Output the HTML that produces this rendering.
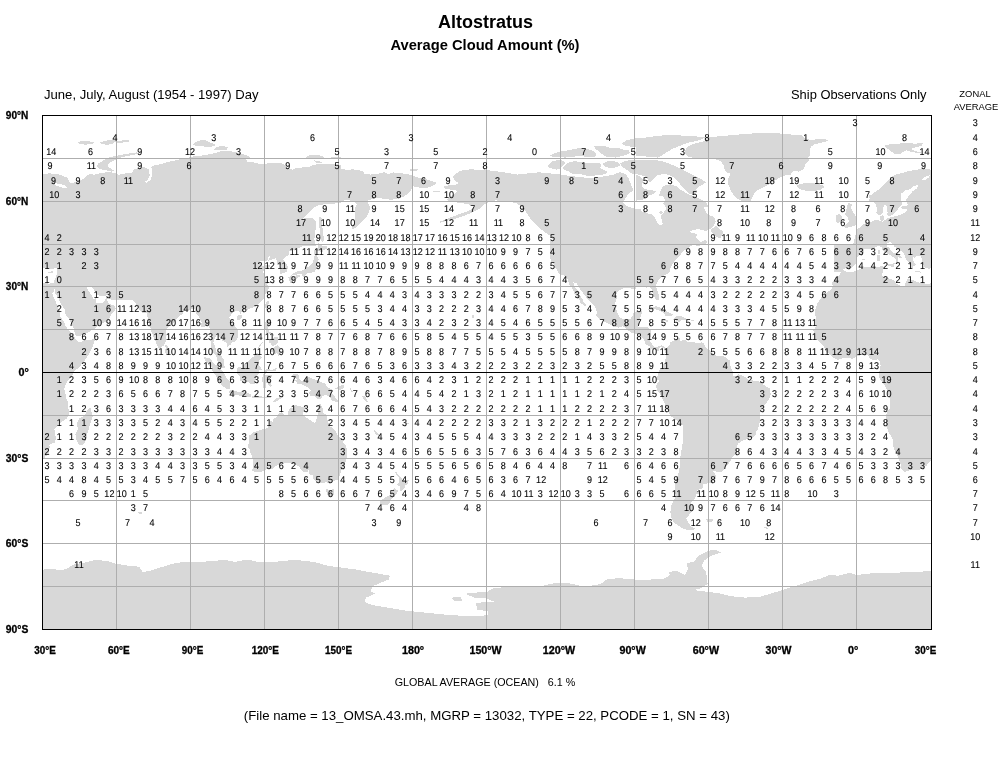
<!DOCTYPE html>
<html lang="en"><head><meta charset="utf-8"><title>Altostratus - Average Cloud Amount (%)</title>
<style>
html,body{margin:0;padding:0;background:#fff;}
body{width:998px;height:760px;overflow:hidden;position:relative;font-family:"Liberation Sans",sans-serif;color:#000;}
svg{position:absolute;left:0;top:0;display:block;}
svg text{font-family:"Liberation Sans",sans-serif;fill:#000;}
.n text,.z text{text-rendering:geometricPrecision;}
.n text{font-size:9.8px;text-anchor:middle;stroke:#000;stroke-width:0.1px;}
.z text{font-size:9.8px;text-anchor:middle;stroke:#000;stroke-width:0.1px;}
.ax text{font-size:10px;font-weight:bold;stroke:#000;stroke-width:0.3px;}
.g line{stroke:#aeaeae;stroke-width:1;shape-rendering:crispEdges;}
.land{fill:#d8d8d8;stroke:none;}
</style></head><body>
<svg width="998" height="760" viewBox="0 0 998 760">
<rect x="0" y="0" width="998" height="760" fill="#fff"/>
<text x="485.5" y="28" text-anchor="middle" font-size="18" font-weight="bold">Altostratus</text>
<text x="485" y="49.5" text-anchor="middle" font-size="14.7" font-weight="bold">Average Cloud Amount (%)</text>
<text x="44" y="99" font-size="13.33" textLength="214.5" lengthAdjust="spacingAndGlyphs">June, July, August (1954 - 1997) Day</text>
<text x="791" y="99" font-size="13.33" textLength="135.5" lengthAdjust="spacingAndGlyphs">Ship Observations Only</text>
<text x="975" y="97" text-anchor="middle" font-size="9.4">ZONAL</text>
<text x="976" y="110" text-anchor="middle" font-size="9.4">AVERAGE</text>
<clipPath id="mapclip"><rect x="42.5" y="115.5" width="889" height="514"/></clipPath>
<g class="land" clip-path="url(#mapclip)" shape-rendering="crispEdges">
<polygon points="77.1,141.8 85.4,140.9 94.5,142.1 92.2,143.9 85.4,144.7 79.4,143.6"/>
<polygon points="99.8,142.4 108.1,140.3 114.2,139.4 115.7,141.4 112.7,143.9 106.6,144.8 102.1,143.9"/>
<polygon points="116.4,140.9 128.5,140.0 129.3,141.5 121.7,142.7 116.4,142.7"/>
<polygon points="96.3,166.3 98.3,163.6 103.6,160.3 108.9,157.5 115.7,156.0 124.8,154.2 136.9,152.4 138.4,153.6 130.8,155.4 121.7,157.2 115.7,159.5 109.6,162.5 107.4,166.3 111.1,168.6 114.2,170.9 111.1,171.6 105.1,170.1 99.0,169.0"/>
<polygon points="40.0,173.9 50.6,173.4 59.7,174.6 67.2,177.7 69.5,181.5 70.3,183.3 74.8,182.2 80.9,180.7 83.9,178.4 86.9,175.4 89.9,174.2 94.5,174.6 97.5,173.9 103.6,172.7 109.6,172.1 115.7,173.1 118.7,175.4 121.7,173.9 127.8,173.1 132.3,172.4 133.8,169.7 138.4,167.8 144.4,167.1 147.5,168.6 149.0,169.7 152.0,169.7 151.2,167.1 155.0,165.1 161.1,164.1 165.6,162.5 171.7,161.0 176.2,160.3 182.3,158.8 190.6,157.5 190.6,245.8 40.0,245.8"/>
<polygon points="193.0,144.4 196.8,141.4 202.1,140.0 206.6,140.6 211.2,142.9 215.0,144.4 214.2,146.3 208.2,147.0 202.1,146.3 196.1,145.9"/>
<polygon points="213.9,149.4 216.5,147.0 222.5,145.9 227.8,147.0 227.1,149.4 221.8,150.4 216.5,150.4"/>
<polygon points="189.2,157.2 196.1,156.0 203.6,155.4 209.7,154.2 216.5,152.7 220.3,151.2 227.8,150.9 233.9,151.9 241.5,153.5 247.5,155.7 249.8,157.5 246.0,159.5 247.5,161.8 253.6,162.5 261.1,164.1 264.2,164.5 270.2,162.5 277.8,162.5 283.8,164.1 288.4,168.6 292.9,169.7 295.9,167.8 302.0,167.5 309.6,167.1 312.6,165.1 318.7,164.1 326.2,163.6 332.3,164.1 340.6,165.1 340.6,203.0 332.3,203.7 323.2,204.5 317.9,205.4 313.4,207.9 308.8,212.5 305.0,216.6 303.5,218.5 308.1,217.5 312.6,218.5 315.9,220.8 316.4,226.9 314.9,232.9 314.4,239.0 315.6,245.8 189.2,245.8"/>
<polygon points="319.0,217.5 321.4,217.0 322.0,223.8 322.9,231.4 323.9,239.0 323.2,242.0 321.4,241.2 320.2,234.4 319.4,226.9"/>
<polygon points="305.8,157.2 309.6,155.4 315.6,155.0 321.7,155.7 324.7,157.2 320.2,158.8 314.1,159.1 308.1,158.8"/>
<polygon points="314.1,160.3 318.7,161.0 322.4,162.1 320.2,163.6 315.6,162.5"/>
<polygon points="329.2,156.9 335.3,156.5 340.6,157.2 340.6,158.8 333.8,158.5"/>
<polygon points="339.2,168.6 346.1,169.7 353.6,169.4 362.7,170.9 364.2,173.6 370.3,174.6 377.8,173.9 383.9,172.1 388.4,173.9 393.0,172.4 400.5,173.1 408.1,174.2 412.7,175.4 415.7,177.2 424.8,178.7 430.8,180.7 436.9,183.0 433.8,185.2 427.8,187.8 421.7,188.3 415.7,186.8 412.3,186.3 411.1,190.5 408.1,193.6 403.6,196.6 397.5,198.4 391.5,199.9 385.4,198.9 377.8,198.1 371.8,198.9 367.2,201.1 369.5,205.7 369.5,210.2 367.2,216.3 362.7,220.8 358.2,225.4 353.6,229.1 351.4,228.1 354.4,222.3 355.1,216.3 354.4,211.7 355.1,207.2 357.4,204.2 353.6,201.4 347.6,199.9 339.2,201.4"/>
<polygon points="408.9,169.7 414.2,168.6 418.7,169.7 415.7,171.2 410.4,171.2"/>
<polygon points="432.3,190.5 439.9,191.3 439.1,192.4 433.1,192.1"/>
<polygon points="490.6,170.6 480.8,169.7 470.2,169.4 461.1,170.6 456.5,173.1 452.8,176.9 455.0,180.7 458.8,183.0 455.0,184.8 449.0,185.2 442.9,186.8 445.9,189.0 452.0,189.8 458.1,190.8 455.0,193.6 450.5,196.6 446.7,199.3 449.0,201.1 455.0,202.3 461.1,203.0 468.7,204.5 474.7,206.4 468.7,211.0 461.1,213.5 453.5,216.3 445.9,219.3 439.9,221.6 439.6,222.8 445.9,221.1 455.0,218.8 464.1,215.8 471.7,212.9 479.2,209.0 483.8,204.5 490.6,201.1"/>
<polygon points="489.2,170.6 499.1,171.6 508.2,173.1 517.2,174.6 524.8,173.9 530.9,172.7 539.9,172.4 547.5,173.1 555.1,173.9 561.1,174.6 570.1,176.0 580.8,177.2 590.0,178.1 599.0,177.2 605.0,176.2 612.1,175.1 620.2,172.1 625.2,174.0 628.0,177.1 630.2,182.1 633.2,190.1 629.2,193.6 626.1,197.1 623.0,202.2 626.2,205.7 630.8,207.5 635.3,208.7 640.6,209.5 640.6,245.8 556.6,245.8 553.6,240.5 550.5,235.9 546.0,232.9 539.9,228.4 535.4,223.8 530.9,219.3 527.8,214.8 524.8,210.2 520.3,205.7 515.7,203.0 509.7,201.9 502.1,201.1 496.1,200.4 489.2,201.1"/>
<polygon points="550.0,155.1 556.0,152.8 561.0,151.5 570.1,150.0 577.1,148.5 582.1,148.0 588.1,149.0 594.1,151.5 596.1,154.0 595.1,156.6 588.1,157.1 582.1,156.3 576.1,156.3 570.1,157.1 565.1,157.6 560.0,157.1 555.0,156.9 551.0,156.3"/>
<polygon points="594.1,146.5 600.1,146.0 606.1,146.5 610.1,148.0 614.1,147.5 618.2,148.0 623.2,149.5 628.2,150.0 630.2,153.0 626.2,155.1 620.2,156.3 616.2,157.6 610.1,157.1 605.1,156.3 602.1,154.0 599.1,151.5 596.1,149.5"/>
<polygon points="622.2,143.0 626.2,140.5 630.2,139.5 634.2,138.5 640.2,138.0 640.2,148.0 635.2,147.0 630.2,146.5 626.2,146.0 623.2,145.0"/>
<polygon points="547.5,166.1 550.0,163.1 553.0,161.1 558.0,160.1 563.0,160.6 565.1,163.1 562.0,166.1 560.0,169.1 556.0,169.6 552.0,168.6 549.0,167.6"/>
<polygon points="563.0,167.1 566.1,164.1 570.1,162.1 575.1,161.1 580.1,162.1 588.1,163.1 594.1,162.6 599.1,163.1 601.1,165.1 600.1,168.1 604.1,170.1 608.1,172.1 605.1,174.1 600.1,175.1 594.1,175.6 588.1,176.1 584.1,175.1 580.1,174.1 575.1,174.1 570.1,173.1 568.1,171.1 564.0,170.1"/>
<polygon points="602.1,164.1 606.1,161.6 612.1,161.1 618.2,162.1 620.2,165.1 617.2,167.1 612.1,168.1 608.1,167.6 604.1,166.1"/>
<polygon points="620.2,163.1 625.2,161.1 630.2,160.1 634.2,160.1 640.2,161.1 640.2,172.1 635.2,174.1 630.2,173.1 627.2,170.1 624.2,168.1 621.2,166.1"/>
<polygon points="636.0,139.0 646.0,137.5 656.0,136.0 666.1,135.2 681.1,135.5 691.1,136.0 700.1,136.8 705.1,137.5 700.1,140.0 695.1,141.2 690.1,142.2 684.1,144.2 679.1,146.2 674.1,148.2 670.1,150.2 666.1,152.7 662.1,155.3 658.0,157.6 648.0,156.6 642.0,156.3 636.0,156.3"/>
<polygon points="703.6,141.4 708.1,137.3 730.8,135.3 745.9,133.8 761.1,133.0 776.2,133.3 791.4,134.2 791.4,174.6 785.3,175.4 780.8,176.9 776.2,179.9 771.7,183.0 765.6,186.0 759.6,189.0 755.0,192.1 752.8,196.6 750.5,201.1 742.9,201.1 736.9,198.9 733.8,195.1 730.8,190.5 728.5,184.5 727.5,179.9 729.3,176.2 730.8,173.9 727.0,172.4 724.8,170.6 724.0,166.3 721.0,161.0 715.7,159.5 706.6,158.8 700.5,158.2 693.0,157.7 688.4,156.5 685.4,154.2 685.4,150.4 686.9,147.4 690.7,144.8 696.0,143.3"/>
<polygon points="636.0,160.1 646.0,159.6 656.0,160.1 662.1,161.1 669.1,163.6 676.1,166.6 682.1,169.6 688.1,172.6 694.1,175.6 700.1,178.6 706.1,182.1 703.1,184.6 699.1,186.6 696.1,189.1 697.1,192.1 694.1,195.1 690.1,194.1 686.1,191.1 683.1,188.1 680.1,184.1 677.1,180.1 673.1,177.1 668.1,174.6 663.1,174.1 658.0,175.1 655.0,177.1 652.0,180.1 650.0,183.1 646.0,177.1 641.0,175.1 636.0,174.1"/>
<polygon points="636.0,175.1 640.0,176.1 643.0,180.1 642.0,186.1 645.0,189.1 651.0,190.1 656.0,191.1 654.0,194.1 650.0,195.1 646.0,198.1 642.0,200.1 636.0,200.6"/>
<polygon points="662.1,187.1 666.1,185.1 671.1,184.6 676.1,186.1 679.1,189.1 683.1,191.1 688.1,194.1 694.1,196.1 700.1,199.1 706.1,202.1 708.1,206.7 666.1,206.7 665.1,200.1 663.1,196.1 659.0,196.1 660.0,192.1"/>
<polygon points="632.0,209.0 640.0,211.0 646.0,213.0 652.0,214.5 655.0,218.0 657.0,222.1 660.0,225.1 662.6,224.1 662.1,220.1 660.5,216.0 662.1,214.0 664.1,212.0 666.1,209.0 665.1,206.0 663.1,204.0 665.1,201.0 666.1,199.0 664.1,197.0 663.1,194.5 680.1,194.5 684.1,198.0 688.1,200.0 696.1,201.0 700.1,204.0 704.1,208.0 706.1,212.0 708.1,215.0 712.2,216.0 715.2,218.5 715.7,222.1 714.2,225.1 711.2,228.1 708.1,230.1 706.1,231.1 702.1,230.1 698.1,229.1 693.1,230.1 689.1,232.1 693.1,233.1 697.1,234.1 696.1,237.1 698.1,240.1 701.1,242.1 705.1,240.1 707.1,242.1 706.1,244.1 702.1,245.1 698.1,246.1 695.1,245.1 692.1,245.1 688.1,248.1 683.1,251.1 680.1,255.1 676.1,259.1 673.1,263.1 671.1,267.1 669.1,271.7 632.0,271.7"/>
<polygon points="711.2,229.1 714.2,227.1 716.2,225.1 718.2,228.1 721.2,230.1 723.2,232.1 722.2,235.1 720.2,238.1 716.2,237.1 713.2,234.1 711.2,232.1"/>
<polygon points="659.0,212.0 661.1,211.0 663.1,212.0 662.1,213.5 660.0,213.5"/>
<polygon points="789.2,134.5 800.6,134.5 804.4,138.3 809.7,139.8 817.2,139.4 826.3,139.4 828.6,140.9 820.3,142.9 814.2,144.4 811.2,146.6 809.7,149.7 810.4,154.2 808.2,158.0 809.7,160.3 805.1,164.8 803.6,169.4 799.1,171.6 794.5,170.9 789.2,173.9"/>
<polygon points="796.1,186.0 800.6,183.7 808.2,183.0 815.7,183.7 823.3,185.2 824.1,187.5 820.3,189.8 812.7,191.3 805.1,190.5 799.1,189.0"/>
<polygon points="883.8,145.9 889.9,144.4 899.0,143.6 905.0,142.9 914.1,143.6 923.2,143.3 921.7,145.9 915.6,147.4 911.1,148.9 915.6,151.2 921.7,152.4 918.7,153.0 911.1,151.9 906.5,150.4 902.0,152.7 899.0,154.5 894.4,153.5 889.9,150.4 886.9,148.2"/>
<polygon points="868.7,201.9 870.2,196.6 874.8,192.1 879.3,189.0 882.3,186.0 886.9,181.5 891.4,176.9 895.9,174.6 902.0,173.1 909.6,170.9 915.6,169.7 923.2,169.0 932.3,169.7 932.3,201.9"/>
<polygon points="856.5,230.1 859.0,228.1 862.1,225.1 866.1,223.1 870.1,222.1 874.1,220.6 878.1,219.5 880.1,221.3 883.1,221.6 886.1,219.0 889.1,217.8 893.1,216.8 897.1,215.8 901.1,214.5 905.1,212.5 907.6,210.0 906.1,209.0 902.1,209.0 900.6,207.5 902.1,206.2 906.1,206.0 908.1,205.0 907.1,203.0 906.1,201.0 908.1,199.0 910.1,197.0 910.6,194.5 930.7,194.5 930.7,271.7 834.0,271.7 834.0,244.1 841.0,244.1 846.0,244.6 851.0,245.1 853.0,244.1 854.0,241.1 855.0,237.1 856.0,233.1"/>
<polygon points="848.0,203.0 852.0,204.0 851.0,208.0 853.0,212.0 855.5,216.0 856.0,220.1 856.5,224.1 854.0,226.1 850.0,227.1 846.0,228.1 844.0,226.1 847.0,224.1 849.0,221.1 848.0,218.0 845.0,215.0 846.0,211.0 847.0,207.0"/>
<polygon points="835.5,215.0 840.0,214.0 842.0,217.0 841.0,221.1 838.0,223.1 835.5,222.1"/>
<polygon points="869.1,194.5 869.6,199.0 873.1,201.0 876.1,205.0 877.1,210.0 876.1,213.0 878.1,215.0 881.1,214.5 883.1,212.0 883.3,208.0 884.3,205.0 886.1,204.5 886.9,208.0 887.6,212.0 887.1,215.0 889.1,216.5 892.1,215.0 895.1,212.0 898.1,209.0 900.1,206.0 902.1,204.0 901.1,201.0 900.1,198.0 900.1,194.5"/>
<polygon points="880.1,216.0 883.1,215.0 884.1,218.0 883.1,221.1 881.1,221.6 880.1,219.0"/>
<polygon points="-46.1,270.3 -48.3,275.4 -52.5,277.4 -55.7,282.6 -55.4,286.8 -56.7,289.7 -61.1,292.5 -64.1,294.0 -67.3,298.3 -71.0,304.0 -73.4,312.5 -71.7,318.2 -72.2,326.8 -74.7,330.5 -72.7,335.4 -72.9,338.2 -68.5,341.7 -64.8,345.4 -62.3,351.1 -59.9,353.1 -54.9,357.4 -50.0,359.9 -43.8,357.9 -38.9,358.2 -35.2,358.8 -30.3,356.2 -25.3,354.5 -20.4,354.8 -17.9,358.8 -14.2,359.9 -10.5,359.4 -8.1,361.6 -7.3,365.4 -8.1,369.6 -9.3,374.5 -8.1,379.6 -4.4,383.9 -1.9,388.2 -1.2,390.2 1.1,396.8 2.5,402.5 1.8,408.2 -1.2,412.5 -2.4,419.6 -2.4,423.9 0.6,432.5 4.3,437.6 5.0,443.9 6.0,449.6 9.2,454.7 10.9,459.6 12.9,464.7 13.6,469.6 16.6,471.9 20.3,470.7 25.2,469.6 31.4,469.6 35.1,468.2 38.8,465.3 42.5,461.0 45.0,456.7 48.7,453.9 49.7,446.7 49.2,444.7 54.8,442.5 56.1,438.2 54.8,432.5 54.3,429.0 58.5,425.3 62.2,421.6 67.2,418.2 69.1,413.9 68.4,408.2 68.2,402.5 65.9,398.2 65.4,392.5 64.2,389.6 65.2,385.9 67.2,381.1 70.9,377.6 74.6,371.1 79.5,366.8 84.4,361.1 88.1,355.4 91.3,349.7 94.3,342.5 94.8,338.8 89.4,340.2 84.4,340.5 79.5,342.5 75.8,339.7 74.6,336.8 70.9,332.5 67.2,328.2 65.4,325.4 63.5,321.1 60.5,316.8 60.3,311.1 57.3,306.8 56.1,302.5 53.6,296.8 51.9,293.1 48.9,287.1 48.2,283.1 42.5,281.7 30.2,281.1 17.8,278.3 5.5,278.3 -4.4,275.4 -4.4,266.0 -19.2,266.0 -31.5,269.1 -38.9,270.8"/>
<polygon points="841.9,270.3 839.7,275.4 835.5,277.4 832.3,282.6 832.6,286.8 831.3,289.7 826.9,292.5 823.9,294.0 820.7,298.3 817.0,304.0 814.6,312.5 816.3,318.2 815.8,326.8 813.3,330.5 815.3,335.4 815.1,338.2 819.5,341.7 823.2,345.4 825.7,351.1 828.1,353.1 833.1,357.4 838.0,359.9 844.2,357.9 849.1,358.2 852.8,358.8 857.7,356.2 862.7,354.5 867.6,354.8 870.1,358.8 873.8,359.9 877.5,359.4 879.9,361.6 880.7,365.4 879.9,369.6 878.7,374.5 879.9,379.6 883.6,383.9 886.1,388.2 886.8,390.2 889.1,396.8 890.5,402.5 889.8,408.2 886.8,412.5 885.6,419.6 885.6,423.9 888.6,432.5 892.3,437.6 893.0,443.9 894.0,449.6 897.2,454.7 898.9,459.6 900.9,464.7 901.6,469.6 904.6,471.9 908.3,470.7 913.2,469.6 919.4,469.6 923.1,468.2 926.8,465.3 930.5,461.0 933.0,456.7 936.7,453.9 937.7,446.7 937.2,444.7 942.8,442.5 944.1,438.2 942.8,432.5 942.3,429.0 946.5,425.3 950.2,421.6 955.2,418.2 957.1,413.9 956.4,408.2 956.2,402.5 953.9,398.2 953.4,392.5 952.2,389.6 953.2,385.9 955.2,381.1 958.9,377.6 962.6,371.1 967.5,366.8 972.4,361.1 976.1,355.4 979.3,349.7 982.3,342.5 982.8,338.8 977.4,340.2 972.4,340.5 967.5,342.5 963.8,339.7 962.6,336.8 958.9,332.5 955.2,328.2 953.4,325.4 951.5,321.1 948.5,316.8 948.3,311.1 945.3,306.8 944.1,302.5 941.6,296.8 939.9,293.1 936.9,287.1 936.2,283.1 930.5,281.7 918.2,281.1 905.8,278.3 893.5,278.3 883.6,275.4 883.6,266.0 868.8,266.0 856.5,269.1 849.1,270.8"/>
<polygon points="40.0,239.7 40.0,282.8 48.2,283.1 48.9,287.1 51.1,292.0 53.1,293.1 54.6,288.3 54.8,292.5 58.5,298.3 60.5,303.4 64.7,309.7 65.2,314.0 68.4,318.2 70.9,322.5 73.8,328.2 75.1,334.5 76.0,336.2 79.5,335.9 84.4,334.0 89.4,331.7 94.3,328.8 97.5,326.0 101.7,324.0 105.4,321.7 109.1,318.8 111.1,314.5 113.5,312.5 116.0,308.2 113.3,305.1 109.1,304.0 107.4,301.1 107.6,297.4 105.4,299.4 102.9,303.1 98.0,303.4 95.8,302.5 95.5,298.3 93.8,299.7 92.3,296.8 91.1,294.5 88.6,291.1 86.9,288.0 88.6,286.0 91.8,286.8 93.8,289.7 95.5,292.8 99.2,296.0 102.9,296.5 107.4,295.1 109.8,299.4 114.0,300.0 120.2,300.5 126.4,300.3 132.5,300.0 134.5,302.0 136.7,304.8 138.7,308.8 141.9,312.8 146.8,312.5 147.8,318.2 149.3,324.0 151.0,330.2 153.0,335.9 155.5,340.5 157.2,345.9 159.7,349.4 161.4,347.1 163.4,345.9 165.3,343.1 166.3,335.4 166.3,328.8 169.5,326.0 172.0,324.5 175.7,320.5 178.2,316.8 182.6,314.0 184.3,310.8 188.0,310.2 191.7,308.5 194.9,308.8 196.2,313.4 199.1,316.8 201.6,322.5 201.1,326.8 204.1,327.4 207.8,324.5 209.5,328.2 210.7,334.0 211.7,339.7 211.0,344.5 211.0,349.7 213.9,353.1 216.4,356.8 218.4,363.9 221.3,366.8 223.8,368.5 225.5,368.2 223.8,363.9 223.6,359.6 221.3,355.4 218.9,352.8 216.4,351.7 215.2,346.8 213.4,342.5 215.2,337.4 216.4,334.2 218.9,336.2 221.3,338.2 222.6,341.1 226.3,342.5 227.5,346.8 230.0,345.1 232.4,342.5 236.1,341.1 238.1,336.8 238.1,332.5 236.9,328.2 233.7,324.5 231.2,321.1 229.2,317.7 231.2,314.8 233.7,312.0 236.9,310.5 239.3,311.1 240.6,314.0 242.3,311.1 247.2,309.7 250.9,308.2 255.9,306.8 259.6,302.5 263.3,299.7 264.5,295.4 268.2,291.1 268.9,286.8 267.0,284.8 268.9,282.6 266.5,278.8 265.0,274.6 262.5,272.6 265.2,269.1 270.2,267.1 270.2,265.4 266.5,264.6 262.0,266.0 259.1,262.6 260.8,260.6 267.0,261.1 268.7,256.0 270.2,256.9 267.7,261.1 273.1,259.1 275.6,258.3 277.6,261.7 276.8,264.6 280.8,265.4 280.0,269.7 280.3,273.7 283.0,273.4 286.7,272.0 287.9,268.3 287.4,265.4 285.5,262.6 283.0,259.1 285.5,256.9 288.4,255.4 289.2,251.1 291.6,250.6 295.3,249.1 301.5,246.9 305.2,242.6 307.7,239.7"/>
<polygon points="928.0,239.7 928.0,282.8 936.2,283.1 936.9,287.1 939.1,292.0 941.1,293.1 942.6,288.3 942.8,292.5 946.5,298.3 948.5,303.4 952.7,309.7 953.2,314.0 956.4,318.2 958.9,322.5 961.8,328.2 963.1,334.5 964.0,336.2 967.5,335.9 972.4,334.0 977.4,331.7 982.3,328.8 985.5,326.0 989.7,324.0 993.4,321.7 997.1,318.8 999.1,314.5 1001.5,312.5 1004.0,308.2 1001.3,305.1 997.1,304.0 995.4,301.1 995.6,297.4 993.4,299.4 990.9,303.1 986.0,303.4 983.8,302.5 983.5,298.3 981.8,299.7 980.3,296.8 979.1,294.5 976.6,291.1 974.9,288.0 976.6,286.0 979.8,286.8 981.8,289.7 983.5,292.8 987.2,296.0 990.9,296.5 995.4,295.1 997.8,299.4 1002.0,300.0 1008.2,300.5 1014.4,300.3 1020.5,300.0 1022.5,302.0 1024.7,304.8 1026.7,308.8 1029.9,312.8 1034.8,312.5 1035.8,318.2 1037.3,324.0 1039.0,330.2 1041.0,335.9 1043.5,340.5 1045.2,345.9 1047.7,349.4 1049.4,347.1 1051.4,345.9 1053.3,343.1 1054.3,335.4 1054.3,328.8 1057.5,326.0 1060.0,324.5 1063.7,320.5 1066.2,316.8 1070.6,314.0 1072.3,310.8 1076.0,310.2 1079.7,308.5 1082.9,308.8 1084.2,313.4 1087.1,316.8 1089.6,322.5 1089.1,326.8 1092.1,327.4 1095.8,324.5 1097.5,328.2 1098.7,334.0 1099.7,339.7 1099.0,344.5 1099.0,349.7 1101.9,353.1 1104.4,356.8 1106.4,363.9 1109.3,366.8 1111.8,368.5 1113.5,368.2 1111.8,363.9 1111.6,359.6 1109.3,355.4 1106.9,352.8 1104.4,351.7 1103.2,346.8 1101.4,342.5 1103.2,337.4 1104.4,334.2 1106.9,336.2 1109.3,338.2 1110.6,341.1 1114.3,342.5 1115.5,346.8 1118.0,345.1 1120.4,342.5 1124.1,341.1 1126.1,336.8 1126.1,332.5 1124.9,328.2 1121.7,324.5 1119.2,321.1 1117.2,317.7 1119.2,314.8 1121.7,312.0 1124.9,310.5 1127.3,311.1 1128.6,314.0 1130.3,311.1 1135.2,309.7 1138.9,308.2 1143.9,306.8 1147.6,302.5 1151.3,299.7 1152.5,295.4 1156.2,291.1 1156.9,286.8 1155.0,284.8 1156.9,282.6 1154.5,278.8 1153.0,274.6 1150.5,272.6 1153.2,269.1 1158.2,267.1 1158.2,265.4 1154.5,264.6 1150.0,266.0 1147.1,262.6 1148.8,260.6 1155.0,261.1 1156.7,256.0 1158.2,256.9 1155.7,261.1 1161.1,259.1 1163.6,258.3 1165.6,261.7 1164.8,264.6 1168.8,265.4 1168.0,269.7 1168.3,273.7 1171.0,273.4 1174.7,272.0 1175.9,268.3 1175.4,265.4 1173.5,262.6 1171.0,259.1 1173.5,256.9 1176.4,255.4 1177.2,251.1 1179.6,250.6 1183.3,249.1 1189.5,246.9 1193.2,242.6 1195.7,239.7"/>
<polygon points="165.3,345.1 166.6,345.4 169.0,348.2 170.3,351.7 169.5,354.2 167.1,355.4 165.8,354.5 165.3,351.1 165.6,348.2"/>
<polygon points="203.6,356.5 206.5,357.7 209.7,357.9 212.0,361.1 215.2,364.5 217.6,366.2 221.3,369.6 223.8,372.5 225.0,375.4 226.5,378.2 230.0,381.1 229.7,385.4 229.5,389.1 226.8,389.1 223.8,386.8 220.8,383.9 217.6,379.6 215.9,375.4 212.7,371.1 211.5,367.4 209.0,365.4 206.5,361.9 204.1,358.8"/>
<polygon points="228.0,391.9 231.2,389.6 234.9,391.1 239.8,391.9 241.8,390.8 246.0,392.2 250.9,394.5 250.7,397.1 246.0,396.5 239.8,395.6 234.9,394.8 231.2,393.6"/>
<polygon points="252.2,395.6 257.1,396.2 262.0,396.5 267.0,396.5 271.9,396.2 271.4,397.6 264.5,397.9 257.1,398.2 252.2,397.6"/>
<polygon points="273.1,401.9 276.8,398.2 281.8,396.5 280.5,398.8 275.6,401.6"/>
<polygon points="237.4,368.2 238.8,366.8 242.3,368.2 243.5,364.8 247.2,363.4 249.7,359.6 253.4,356.8 256.6,352.5 258.8,354.5 262.0,357.7 259.6,360.2 258.3,363.4 259.6,366.2 262.0,369.6 259.1,370.2 258.3,374.8 255.9,376.8 255.4,381.1 254.6,383.9 251.2,384.2 249.0,382.2 244.8,382.2 240.3,381.1 239.8,376.8 237.4,373.9 237.4,371.1"/>
<polygon points="263.3,388.2 263.3,382.5 261.5,380.5 264.0,372.5 264.5,370.2 267.0,368.8 271.9,369.9 276.8,367.9 275.6,371.4 271.9,371.4 267.0,371.4 265.0,375.1 268.2,375.1 272.6,374.8 271.4,376.8 268.7,377.9 270.2,381.9 271.9,385.4 270.2,386.8 268.7,385.4 267.0,381.1 266.2,383.9 265.5,388.2"/>
<polygon points="291.6,374.8 295.3,373.6 299.0,374.8 299.5,379.4 302.0,381.9 305.2,378.8 308.9,377.1 312.6,378.8 316.3,379.9 321.2,382.2 324.9,383.6 328.1,387.6 331.6,389.3 333.1,391.9 331.1,391.9 333.6,395.3 337.3,399.6 339.7,401.9 336.0,401.9 332.3,400.5 328.6,396.2 324.9,394.2 322.5,396.5 321.2,398.8 317.5,398.5 313.8,395.9 310.6,396.2 308.9,392.5 310.9,390.8 307.7,387.6 304.0,385.4 300.3,383.9 297.1,383.9 296.1,381.1 294.1,380.5 297.8,379.1 294.8,378.2 291.6,376.5"/>
<polygon points="265.7,319.7 269.4,319.7 270.2,324.0 268.4,327.4 268.9,332.0 273.1,333.1 274.4,336.2 271.9,334.5 268.9,333.4 266.2,333.1 266.0,330.2 264.3,326.8 265.5,322.5"/>
<polygon points="269.4,350.2 273.1,347.9 277.6,344.8 280.3,348.2 280.3,353.9 278.1,355.9 277.3,353.1 274.4,353.9 274.4,351.1 270.7,352.5"/>
<polygon points="269.4,338.8 271.9,339.7 275.1,336.8 278.1,337.4 278.6,341.1 276.8,343.9 273.1,345.9 271.4,345.4 270.7,342.5 269.4,342.5"/>
<polygon points="257.8,348.5 260.8,345.4 263.3,341.7 263.8,340.2 261.5,343.1 258.3,346.8"/>
<polygon points="267.0,300.5 269.2,301.1 268.2,305.4 266.5,309.7 265.0,307.4 265.0,304.5"/>
<polygon points="236.6,317.4 238.6,315.4 241.8,315.4 242.1,317.4 239.8,320.0 236.9,319.7"/>
<polygon points="288.4,277.4 291.1,275.7 293.4,276.6 293.9,279.7 292.4,282.8 290.6,283.7 289.7,281.1 288.7,278.8"/>
<polygon points="291.4,275.4 294.1,272.8 297.3,271.1 301.5,270.8 304.0,269.7 305.9,266.0 307.2,267.4 310.1,265.7 312.6,262.6 313.8,258.8 313.8,256.3 316.3,254.0 317.5,256.9 318.8,259.7 317.5,263.1 316.3,265.4 315.8,269.7 314.6,272.0 313.3,271.7 310.9,273.4 307.7,273.4 305.9,274.3 304.5,276.8 302.0,276.3 301.5,273.7 297.8,274.3 294.8,274.8 291.6,275.7"/>
<polygon points="294.6,276.8 296.6,274.8 300.3,274.6 300.5,276.0 299.0,277.1 296.6,278.8"/>
<polygon points="313.8,254.0 314.6,249.1 317.5,248.9 318.0,243.1 320.0,244.0 322.5,246.3 326.7,246.3 327.4,248.9 323.7,250.0 322.0,252.6 318.3,250.9 316.1,251.1 316.3,253.4"/>
<polygon points="90.1,406.8 92.6,416.8 90.6,422.5 88.1,431.0 85.7,441.0 83.2,444.5 79.5,445.3 76.3,439.6 75.3,433.9 77.8,429.6 77.0,422.5 79.5,418.2 84.4,415.9 86.9,411.1"/>
<polygon points="249.0,435.3 250.2,434.8 253.4,431.9 257.1,431.3 262.0,429.6 267.0,428.2 270.2,423.9 269.9,421.0 273.1,421.9 273.6,418.8 276.8,416.8 278.8,413.0 281.8,412.2 284.2,414.8 287.9,415.0 288.4,411.1 290.4,408.2 294.1,407.1 295.3,404.8 301.5,406.8 305.9,407.3 304.0,410.5 302.7,414.8 306.4,417.6 311.4,421.0 315.1,422.8 317.0,418.2 318.0,411.1 318.3,406.8 320.0,403.3 322.5,408.2 323.2,413.3 326.9,415.0 327.4,419.6 329.4,426.2 332.3,427.9 336.0,431.0 337.3,435.3 340.5,437.6 342.2,441.0 345.9,445.3 347.1,451.0 347.1,455.3 345.9,461.0 344.7,465.3 341.7,469.6 340.2,473.9 338.5,478.2 338.0,479.9 333.6,480.7 329.9,483.9 326.2,482.2 322.5,483.3 317.5,482.2 313.8,479.6 312.6,475.3 309.4,474.2 308.9,468.2 307.7,472.4 304.0,472.4 302.2,471.3 299.0,466.7 294.1,463.9 286.7,462.7 279.3,464.7 274.4,466.7 273.1,469.3 267.0,469.3 263.3,470.7 259.6,472.4 254.6,471.9 252.2,470.4 253.4,463.9 252.7,458.2 250.9,453.9 249.7,449.6 248.0,446.7 248.7,442.5 248.5,438.2"/>
<polygon points="325.4,488.7 329.9,489.9 334.1,489.0 334.3,492.4 333.1,495.9 330.6,497.0 328.6,496.7 326.7,493.0"/>
<polygon points="394.5,470.7 396.5,472.4 398.9,475.9 401.4,477.3 402.6,479.9 406.3,480.7 408.8,480.2 407.6,483.9 405.1,485.3 404.6,488.2 401.4,491.0 399.7,490.4 400.2,486.7 397.2,484.7 399.2,482.4 399.4,479.0 398.2,476.7 395.2,473.0"/>
<polygon points="394.5,488.2 398.2,491.0 396.5,493.9 394.7,496.7 391.0,499.0 389.8,503.3 386.6,505.3 382.9,505.3 379.4,503.9 380.4,501.0 384.1,498.1 389.1,495.3 391.5,492.4 393.3,489.6"/>
<polygon points="550.6,239.7 549.9,249.7 550.1,257.4 551.1,261.1 554.3,264.6 555.8,268.3 559.0,273.7 563.0,275.1 564.7,276.0 567.4,279.1 569.1,284.0 571.6,287.4 574.1,291.7 574.8,294.8 579.0,298.8 580.2,302.5 584.4,306.0 586.4,306.8 586.4,304.5 583.9,302.5 582.0,298.3 579.5,294.5 577.8,290.3 574.6,286.8 573.3,282.3 576.5,283.1 578.3,286.8 581.5,291.1 583.9,294.0 586.4,297.4 589.4,300.5 593.1,304.5 595.8,308.2 596.8,311.7 596.3,315.4 598.7,318.2 603.7,321.1 608.6,324.0 613.5,326.2 618.5,327.7 622.7,326.2 625.9,328.2 629.1,331.1 632.0,332.8 635.7,334.0 639.4,334.8 640.7,335.9 643.1,338.8 644.9,341.7 645.6,344.5 649.3,345.9 651.0,348.8 654.2,349.1 656.7,351.7 658.4,351.1 659.2,348.2 661.6,346.8 664.1,348.8 665.3,351.7 665.8,355.4 665.3,361.1 662.9,365.4 661.6,368.2 659.2,370.5 657.9,375.4 656.7,378.8 659.2,381.1 656.2,385.4 656.7,389.6 659.7,393.3 662.9,399.6 665.3,405.3 668.3,411.9 671.5,416.8 677.7,421.0 682.6,424.8 683.3,429.6 683.3,436.8 682.6,443.9 681.4,451.0 680.1,458.2 679.9,465.3 678.9,472.4 676.4,478.2 675.2,485.3 674.5,491.9 676.4,495.3 674.0,499.6 671.5,505.3 670.3,512.4 671.5,518.1 674.0,522.4 678.9,526.1 682.6,528.1 687.5,530.4 693.7,529.8 695.7,528.7 691.2,526.7 688.0,522.4 686.3,518.1 688.8,515.3 693.7,509.6 694.4,506.7 690.5,503.9 692.5,501.0 695.4,498.1 696.2,493.9 699.9,493.9 696.2,489.6 699.1,489.6 703.1,488.2 703.1,483.9 708.5,483.3 714.7,481.0 716.6,476.7 715.2,473.9 712.4,470.2 715.9,471.6 720.8,472.2 724.0,469.6 727.0,465.3 730.7,461.0 733.2,456.2 736.4,452.5 736.9,446.7 738.6,443.3 742.3,441.0 745.5,439.6 749.2,438.2 752.9,437.9 755.4,435.3 755.9,432.5 758.3,428.2 759.6,422.5 760.3,416.8 760.3,411.1 762.0,409.1 764.5,405.3 767.0,401.9 769.7,398.2 770.7,393.9 769.7,388.2 765.2,385.9 761.5,383.1 757.8,380.5 753.4,380.5 748.0,379.6 746.7,377.6 741.8,375.4 738.1,374.2 736.9,376.8 733.2,375.4 733.2,371.6 730.7,368.2 730.2,361.1 727.0,358.2 723.3,355.9 718.4,355.7 714.7,355.4 712.2,352.5 709.0,349.1 706.0,348.2 704.1,343.9 701.6,342.2 697.4,343.4 693.7,342.2 688.8,342.5 684.6,339.7 680.6,341.1 679.4,337.4 676.9,339.1 673.2,341.1 670.3,342.5 669.0,345.9 666.6,348.2 665.3,347.7 662.1,345.4 659.7,345.7 656.7,347.4 654.2,346.8 651.8,343.9 650.0,341.1 650.5,336.8 651.0,332.5 651.0,329.7 648.1,327.4 644.4,327.1 640.7,327.4 638.2,327.4 638.7,324.0 639.4,319.7 640.7,316.8 642.4,311.4 638.7,310.8 633.8,312.0 632.5,316.0 630.8,318.5 627.1,318.8 623.4,319.4 620.2,317.7 618.5,314.8 616.5,310.2 615.3,307.4 615.5,302.5 616.7,298.3 616.2,294.0 618.5,291.1 622.2,288.8 625.1,287.7 629.6,288.0 633.3,289.1 636.2,289.1 635.7,286.3 639.4,286.0 643.1,285.7 646.1,287.7 649.3,286.8 652.3,289.7 652.5,293.4 654.2,296.8 656.2,300.5 658.4,300.3 659.2,296.0 657.9,292.0 656.0,286.8 656.7,282.6 659.2,279.7 661.6,276.8 664.6,275.4 667.8,273.4 670.0,271.7 669.0,267.4 646.8,239.7"/>
<polygon points="647.1,310.0 651.8,306.8 656.7,306.3 661.6,308.2 666.6,311.1 670.3,313.4 673.5,314.8 671.5,315.7 665.3,315.7 664.1,313.4 660.4,311.1 655.5,309.1 651.8,309.7"/>
<polygon points="673.0,319.7 676.4,315.7 680.1,315.7 684.3,317.4 687.8,319.4 685.1,320.2 681.4,320.5 679.4,322.0 676.4,320.5"/>
<polygon points="663.4,320.0 668.3,320.2 667.8,321.7 663.6,321.1"/>
<polygon points="690.7,319.7 694.4,320.0 694.2,321.1 690.7,321.1"/>
<polygon points="38.5,569.7 43.0,569.7 52.0,568.5 61.0,570.6 67.1,568.5 73.1,564.6 85.1,562.5 94.1,560.1 106.1,560.7 115.1,563.7 127.2,565.5 139.2,566.7 142.8,572.1 151.2,570.6 160.2,567.6 172.3,563.7 184.3,561.9 202.3,561.9 214.3,560.7 226.4,560.1 235.4,561.9 247.4,559.5 256.4,561.6 265.4,562.5 280.5,561.3 292.5,560.1 304.5,560.7 316.5,562.5 328.5,566.1 340.6,567.3 340.6,632.2 38.5,632.2"/>
<polygon points="336.0,567.6 348.0,568.5 357.0,569.7 366.1,571.5 378.1,573.6 390.1,575.7 388.6,579.6 381.1,582.6 372.1,586.5 370.6,591.6 375.1,593.7 366.1,597.6 364.6,602.1 372.1,605.1 387.1,607.5 405.1,610.6 426.2,612.7 447.2,614.8 465.2,616.0 487.8,615.4 487.8,611.2 477.3,609.7 475.8,603.6 483.3,602.1 493.8,601.5 486.3,598.5 474.3,597.6 465.2,593.7 477.3,592.5 487.8,591.6 492.3,588.6 504.3,587.1 522.4,585.6 540.4,586.5 549.4,584.1 558.4,582.6 570.4,583.5 579.5,585.6 591.5,585.6 600.5,584.1 606.5,579.6 618.5,578.1 636.6,579.6 636.6,632.2 336.0,632.2"/>
<polygon points="451.7,597.6 460.7,596.7 462.2,600.6 454.7,601.5"/>
<polygon points="634.0,579.6 649.0,579.6 664.1,578.7 670.1,575.1 668.6,572.1 676.1,570.6 685.1,575.1 688.1,569.1 686.6,563.1 694.1,561.6 698.6,555.5 707.6,551.0 715.2,549.5 721.2,552.5 712.1,555.5 704.6,560.1 701.6,566.1 706.1,572.1 707.6,584.1 700.1,588.6 694.1,590.1 706.1,591.6 718.2,593.1 730.2,596.1 745.2,597.6 760.2,596.7 772.3,593.1 784.3,589.5 796.3,585.6 808.3,581.7 820.4,578.7 829.4,575.1 838.4,575.7 850.4,572.7 856.4,575.1 868.4,573.6 880.5,572.7 895.5,572.7 910.5,572.1 922.5,571.5 934.6,570.9 934.6,632.2 634.0,632.2"/>
<polygon points="138.2,511.9 142.4,511.9 141.9,514.4 138.7,514.1"/>
<polygon points="706.0,519.0 709.7,518.7 713.9,519.6 712.2,521.6 707.3,521.6"/>
<polygon points="762.8,526.7 766.5,527.3 768.2,529.0 765.2,528.4"/>
<polygon points="471.7,314.8 474.2,315.7 474.4,317.4 472.4,318.2 471.7,316.5"/>
<polygon points="466.3,310.8 467.5,311.7 466.8,312.0"/>
<polygon points="361.9,395.3 365.6,396.8 368.1,402.5 365.6,401.1 363.2,398.2"/>
<polygon points="349.6,387.3 352.8,391.1 352.1,392.5 350.1,389.6"/>
<polygon points="338.5,386.8 343.4,384.5 344.2,388.2 339.7,390.2 334.8,388.5"/>
<polygon points="374.3,430.2 379.2,434.8 380.4,436.5 376.7,434.8 373.0,430.8"/>
<polygon points="405.8,422.2 409.0,422.8 408.6,424.5 406.1,424.2"/>
<polygon fill="#fff" points="54.4,184.8 58.2,186.3 64.2,188.1 67.5,187.5 65.0,185.4 59.7,183.9 55.1,183.3"/>
<polygon fill="#fff" points="149.3,169.7 151.5,169.7 152.0,175.4 150.5,179.9 146.3,182.7 144.4,182.2 148.2,179.2 149.6,175.4"/>
<polygon fill="#fff" points="910.3,189.0 914.1,186.0 918.7,184.8 917.1,188.3 912.6,191.3 909.6,195.1 906.5,198.9 905.0,201.4 901.2,201.4 900.5,198.1 901.2,193.6 905.0,190.5"/>
<polygon fill="#fff" points="921.7,179.2 926.2,176.2 930.0,175.4 928.5,177.7 923.9,180.7"/>
<polygon fill="#fff" points="-45.1,269.7 -42.6,268.0 -36.4,267.7 -33.2,265.1 -31.5,262.3 -32.2,259.7 -29.5,256.0 -26.1,254.3 -23.6,252.0 -23.6,249.1 -20.4,248.6 -16.7,249.4 -13.5,247.7 -9.5,245.7 -6.3,247.1 -5.6,250.0 -1.4,253.1 1.8,254.9 3.8,256.0 7.0,258.3 8.2,261.1 7.2,264.0 9.2,263.1 10.7,261.1 9.4,259.1 10.4,256.9 12.9,258.3 14.1,258.0 12.9,256.3 9.2,254.0 8.0,252.9 5.5,252.6 3.0,250.6 1.8,248.0 -0.9,246.3 -1.2,242.9 2.5,242.3 4.3,243.4 6.0,246.3 9.0,248.3 12.9,250.9 16.4,253.1 16.6,256.9 19.1,260.3 21.0,263.1 22.0,267.4 24.0,268.3 25.7,266.0 27.7,264.8 26.5,262.6 24.7,260.3 24.7,257.1 27.0,257.7 28.9,256.0 32.6,256.0 33.4,257.7 34.4,260.3 33.9,262.8 35.8,265.4 36.3,267.4 38.8,267.7 41.3,269.1 44.0,267.4 47.4,269.1 51.9,269.1 57.3,267.4 57.3,271.1 56.8,274.0 55.3,278.3 53.6,282.6 48.7,283.7 45.0,282.6 40.0,284.3 35.1,283.1 30.2,282.3 26.5,280.6 22.8,278.6 19.1,279.4 17.8,282.6 16.6,285.7 12.9,285.7 8.0,283.4 6.0,280.3 1.1,278.6 -4.4,277.4 -6.3,274.8 -4.9,271.1 -4.4,266.8 -6.8,266.0 -10.5,267.1 -16.7,267.1 -24.1,267.4 -31.5,270.3 -36.4,272.3 -41.4,272.0 -44.8,270.3"/>
<polygon fill="#fff" points="842.9,269.7 845.4,268.0 851.6,267.7 854.8,265.1 856.5,262.3 855.8,259.7 858.5,256.0 861.9,254.3 864.4,252.0 864.4,249.1 867.6,248.6 871.3,249.4 874.5,247.7 878.5,245.7 881.7,247.1 882.4,250.0 886.6,253.1 889.8,254.9 891.8,256.0 895.0,258.3 896.2,261.1 895.2,264.0 897.2,263.1 898.7,261.1 897.4,259.1 898.4,256.9 900.9,258.3 902.1,258.0 900.9,256.3 897.2,254.0 896.0,252.9 893.5,252.6 891.0,250.6 889.8,248.0 887.1,246.3 886.8,242.9 890.5,242.3 892.3,243.4 894.0,246.3 897.0,248.3 900.9,250.9 904.4,253.1 904.6,256.9 907.1,260.3 909.0,263.1 910.0,267.4 912.0,268.3 913.7,266.0 915.7,264.8 914.5,262.6 912.7,260.3 912.7,257.1 915.0,257.7 916.9,256.0 920.6,256.0 921.4,257.7 922.4,260.3 921.9,262.8 923.8,265.4 924.3,267.4 926.8,267.7 929.3,269.1 932.0,267.4 935.4,269.1 939.9,269.1 945.3,267.4 945.3,271.1 944.8,274.0 943.3,278.3 941.6,282.6 936.7,283.7 933.0,282.6 928.0,284.3 923.1,283.1 918.2,282.3 914.5,280.6 910.8,278.6 907.1,279.4 905.8,282.6 904.6,285.7 900.9,285.7 896.0,283.4 894.0,280.3 889.1,278.6 883.6,277.4 881.7,274.8 883.1,271.1 883.6,266.8 881.2,266.0 877.5,267.1 871.3,267.1 863.9,267.4 856.5,270.3 851.6,272.3 846.6,272.0 843.2,270.3"/>
<polygon points="887.3,264.0 894.7,263.4 894.0,267.7 887.3,265.1"/>
<polygon points="876.7,255.1 880.4,255.1 880.4,260.8 877.2,261.1"/>
<polygon points="877.7,250.0 879.9,250.0 879.7,254.0 878.0,254.0"/>
<polygon points="914.5,270.8 921.4,271.7 921.1,272.6 914.7,272.0"/>
<polygon points="48.2,272.3 53.6,270.8 52.4,273.4 48.7,273.4"/>
<polygon points="862.4,258.6 864.9,258.8 864.1,260.3 862.4,259.7"/>
</g>
<g class="g">
<line x1="116.5" y1="115.5" x2="116.5" y2="629.5"/>
<line x1="190.5" y1="115.5" x2="190.5" y2="629.5"/>
<line x1="264.5" y1="115.5" x2="264.5" y2="629.5"/>
<line x1="338.5" y1="115.5" x2="338.5" y2="629.5"/>
<line x1="412.5" y1="115.5" x2="412.5" y2="629.5"/>
<line x1="486.5" y1="115.5" x2="486.5" y2="629.5"/>
<line x1="560.5" y1="115.5" x2="560.5" y2="629.5"/>
<line x1="634.5" y1="115.5" x2="634.5" y2="629.5"/>
<line x1="708.5" y1="115.5" x2="708.5" y2="629.5"/>
<line x1="782.5" y1="115.5" x2="782.5" y2="629.5"/>
<line x1="856.5" y1="115.5" x2="856.5" y2="629.5"/>
<line x1="42.5" y1="158.5" x2="931.5" y2="158.5"/>
<line x1="42.5" y1="201.5" x2="931.5" y2="201.5"/>
<line x1="42.5" y1="244.5" x2="931.5" y2="244.5"/>
<line x1="42.5" y1="286.5" x2="931.5" y2="286.5"/>
<line x1="42.5" y1="329.5" x2="931.5" y2="329.5"/>
<line x1="42.5" y1="415.5" x2="931.5" y2="415.5"/>
<line x1="42.5" y1="458.5" x2="931.5" y2="458.5"/>
<line x1="42.5" y1="500.5" x2="931.5" y2="500.5"/>
<line x1="42.5" y1="543.5" x2="931.5" y2="543.5"/>
<line x1="42.5" y1="586.5" x2="931.5" y2="586.5"/>
</g>
<line x1="42.5" y1="372.5" x2="931.5" y2="372.5" stroke="#000" stroke-width="1" shape-rendering="crispEdges"/>
<rect x="42.5" y="115.5" width="889" height="514" fill="none" stroke="#000" stroke-width="1" shape-rendering="crispEdges"/>
<g class="n" transform="scale(0.92,1)">
<text x="51.0" y="241.0">4</text><text x="64.4" y="241.0">2</text><text x="333.4" y="241.0">11</text><text x="345.9" y="241.0">9</text><text x="360.3" y="241.0">12</text><text x="373.7" y="241.0">12</text><text x="387.1" y="241.0">15</text><text x="400.5" y="241.0">19</text><text x="413.9" y="241.0">20</text><text x="427.3" y="241.0">18</text><text x="440.7" y="241.0">18</text><text x="454.1" y="241.0">17</text><text x="467.5" y="241.0">17</text><text x="480.9" y="241.0">16</text><text x="494.3" y="241.0">15</text><text x="507.7" y="241.0">16</text><text x="521.1" y="241.0">14</text><text x="534.5" y="241.0">13</text><text x="547.9" y="241.0">12</text><text x="561.3" y="241.0">10</text><text x="573.8" y="241.0">8</text><text x="587.2" y="241.0">6</text><text x="600.6" y="241.0">5</text><text x="774.9" y="241.0">9</text><text x="789.2" y="241.0">11</text><text x="801.7" y="241.0">9</text><text x="816.1" y="241.0">11</text><text x="829.5" y="241.0">10</text><text x="842.9" y="241.0">11</text><text x="856.3" y="241.0">10</text><text x="868.8" y="241.0">9</text><text x="882.2" y="241.0">6</text><text x="895.6" y="241.0">8</text><text x="909.0" y="241.0">6</text><text x="922.4" y="241.0">6</text><text x="935.8" y="241.0">6</text><text x="962.6" y="241.0">5</text><text x="1002.8" y="241.0">4</text>
<text x="51.0" y="255.0">2</text><text x="64.4" y="255.0">2</text><text x="77.8" y="255.0">3</text><text x="91.2" y="255.0">3</text><text x="104.6" y="255.0">3</text><text x="320.0" y="255.0">11</text><text x="333.4" y="255.0">11</text><text x="346.8" y="255.0">11</text><text x="360.3" y="255.0">12</text><text x="373.7" y="255.0">14</text><text x="387.1" y="255.0">16</text><text x="400.5" y="255.0">16</text><text x="413.9" y="255.0">16</text><text x="427.3" y="255.0">14</text><text x="440.7" y="255.0">13</text><text x="454.1" y="255.0">12</text><text x="467.5" y="255.0">12</text><text x="480.9" y="255.0">11</text><text x="494.3" y="255.0">13</text><text x="507.7" y="255.0">10</text><text x="521.1" y="255.0">10</text><text x="534.5" y="255.0">10</text><text x="547.0" y="255.0">9</text><text x="560.4" y="255.0">9</text><text x="573.8" y="255.0">7</text><text x="587.2" y="255.0">5</text><text x="600.6" y="255.0">4</text><text x="734.7" y="255.0">6</text><text x="748.1" y="255.0">9</text><text x="761.5" y="255.0">8</text><text x="774.9" y="255.0">9</text><text x="788.3" y="255.0">8</text><text x="801.7" y="255.0">8</text><text x="815.1" y="255.0">7</text><text x="828.5" y="255.0">7</text><text x="841.9" y="255.0">6</text><text x="855.3" y="255.0">6</text><text x="868.8" y="255.0">7</text><text x="882.2" y="255.0">6</text><text x="895.6" y="255.0">5</text><text x="909.0" y="255.0">6</text><text x="922.4" y="255.0">6</text><text x="935.8" y="255.0">3</text><text x="949.2" y="255.0">3</text><text x="962.6" y="255.0">2</text><text x="976.0" y="255.0">2</text><text x="989.4" y="255.0">1</text><text x="1002.8" y="255.0">2</text>
<text x="51.0" y="269.0">1</text><text x="64.4" y="269.0">1</text><text x="91.2" y="269.0">2</text><text x="104.6" y="269.0">3</text><text x="279.8" y="269.0">12</text><text x="293.2" y="269.0">12</text><text x="306.6" y="269.0">11</text><text x="319.1" y="269.0">9</text><text x="332.5" y="269.0">7</text><text x="345.9" y="269.0">9</text><text x="359.3" y="269.0">9</text><text x="373.7" y="269.0">11</text><text x="387.1" y="269.0">11</text><text x="400.5" y="269.0">10</text><text x="413.9" y="269.0">10</text><text x="426.4" y="269.0">9</text><text x="439.8" y="269.0">9</text><text x="453.2" y="269.0">9</text><text x="466.6" y="269.0">8</text><text x="480.0" y="269.0">8</text><text x="493.4" y="269.0">8</text><text x="506.8" y="269.0">6</text><text x="520.2" y="269.0">7</text><text x="533.6" y="269.0">6</text><text x="547.0" y="269.0">6</text><text x="560.4" y="269.0">6</text><text x="573.8" y="269.0">6</text><text x="587.2" y="269.0">6</text><text x="600.6" y="269.0">5</text><text x="721.3" y="269.0">6</text><text x="734.7" y="269.0">8</text><text x="748.1" y="269.0">8</text><text x="761.5" y="269.0">7</text><text x="774.9" y="269.0">7</text><text x="788.3" y="269.0">5</text><text x="801.7" y="269.0">4</text><text x="815.1" y="269.0">4</text><text x="828.5" y="269.0">4</text><text x="841.9" y="269.0">4</text><text x="855.3" y="269.0">4</text><text x="868.8" y="269.0">4</text><text x="882.2" y="269.0">5</text><text x="895.6" y="269.0">4</text><text x="909.0" y="269.0">3</text><text x="922.4" y="269.0">3</text><text x="935.8" y="269.0">4</text><text x="949.2" y="269.0">4</text><text x="962.6" y="269.0">2</text><text x="976.0" y="269.0">2</text><text x="989.4" y="269.0">1</text><text x="1002.8" y="269.0">1</text>
<text x="51.0" y="283.0">1</text><text x="64.4" y="283.0">0</text><text x="278.9" y="283.0">5</text><text x="293.2" y="283.0">13</text><text x="305.7" y="283.0">8</text><text x="319.1" y="283.0">9</text><text x="332.5" y="283.0">9</text><text x="345.9" y="283.0">9</text><text x="359.3" y="283.0">9</text><text x="372.7" y="283.0">8</text><text x="386.1" y="283.0">8</text><text x="399.5" y="283.0">7</text><text x="413.0" y="283.0">7</text><text x="426.4" y="283.0">6</text><text x="439.8" y="283.0">5</text><text x="453.2" y="283.0">5</text><text x="466.6" y="283.0">5</text><text x="480.0" y="283.0">4</text><text x="493.4" y="283.0">4</text><text x="506.8" y="283.0">4</text><text x="520.2" y="283.0">3</text><text x="533.6" y="283.0">4</text><text x="547.0" y="283.0">4</text><text x="560.4" y="283.0">3</text><text x="573.8" y="283.0">5</text><text x="587.2" y="283.0">6</text><text x="600.6" y="283.0">7</text><text x="614.0" y="283.0">4</text><text x="694.5" y="283.0">5</text><text x="707.9" y="283.0">5</text><text x="721.3" y="283.0">7</text><text x="734.7" y="283.0">7</text><text x="748.1" y="283.0">6</text><text x="761.5" y="283.0">5</text><text x="774.9" y="283.0">4</text><text x="788.3" y="283.0">3</text><text x="801.7" y="283.0">3</text><text x="815.1" y="283.0">2</text><text x="828.5" y="283.0">2</text><text x="841.9" y="283.0">2</text><text x="855.3" y="283.0">3</text><text x="868.8" y="283.0">3</text><text x="882.2" y="283.0">3</text><text x="895.6" y="283.0">4</text><text x="909.0" y="283.0">4</text><text x="962.6" y="283.0">2</text><text x="976.0" y="283.0">2</text><text x="989.4" y="283.0">1</text><text x="1002.8" y="283.0">1</text>
<text x="51.0" y="298.0">1</text><text x="64.4" y="298.0">1</text><text x="91.2" y="298.0">1</text><text x="104.6" y="298.0">1</text><text x="118.0" y="298.0">3</text><text x="131.4" y="298.0">5</text><text x="278.9" y="298.0">8</text><text x="292.3" y="298.0">8</text><text x="305.7" y="298.0">7</text><text x="319.1" y="298.0">7</text><text x="332.5" y="298.0">6</text><text x="345.9" y="298.0">6</text><text x="359.3" y="298.0">5</text><text x="372.7" y="298.0">5</text><text x="386.1" y="298.0">5</text><text x="399.5" y="298.0">4</text><text x="413.0" y="298.0">4</text><text x="426.4" y="298.0">4</text><text x="439.8" y="298.0">3</text><text x="453.2" y="298.0">4</text><text x="466.6" y="298.0">3</text><text x="480.0" y="298.0">3</text><text x="493.4" y="298.0">3</text><text x="506.8" y="298.0">2</text><text x="520.2" y="298.0">2</text><text x="533.6" y="298.0">3</text><text x="547.0" y="298.0">4</text><text x="560.4" y="298.0">5</text><text x="573.8" y="298.0">5</text><text x="587.2" y="298.0">6</text><text x="600.6" y="298.0">7</text><text x="614.0" y="298.0">7</text><text x="627.4" y="298.0">3</text><text x="640.9" y="298.0">5</text><text x="667.7" y="298.0">4</text><text x="681.1" y="298.0">5</text><text x="694.5" y="298.0">5</text><text x="707.9" y="298.0">5</text><text x="721.3" y="298.0">5</text><text x="734.7" y="298.0">4</text><text x="748.1" y="298.0">4</text><text x="761.5" y="298.0">4</text><text x="774.9" y="298.0">3</text><text x="788.3" y="298.0">2</text><text x="801.7" y="298.0">2</text><text x="815.1" y="298.0">2</text><text x="828.5" y="298.0">2</text><text x="841.9" y="298.0">2</text><text x="855.3" y="298.0">3</text><text x="868.8" y="298.0">4</text><text x="882.2" y="298.0">5</text><text x="895.6" y="298.0">6</text><text x="909.0" y="298.0">6</text>
<text x="64.4" y="312.0">2</text><text x="104.6" y="312.0">1</text><text x="118.0" y="312.0">6</text><text x="132.4" y="312.0">11</text><text x="145.8" y="312.0">12</text><text x="159.2" y="312.0">13</text><text x="199.4" y="312.0">14</text><text x="212.8" y="312.0">10</text><text x="252.1" y="312.0">8</text><text x="265.5" y="312.0">8</text><text x="278.9" y="312.0">7</text><text x="292.3" y="312.0">8</text><text x="305.7" y="312.0">8</text><text x="319.1" y="312.0">7</text><text x="332.5" y="312.0">6</text><text x="345.9" y="312.0">6</text><text x="359.3" y="312.0">5</text><text x="372.7" y="312.0">5</text><text x="386.1" y="312.0">5</text><text x="399.5" y="312.0">5</text><text x="413.0" y="312.0">3</text><text x="426.4" y="312.0">4</text><text x="439.8" y="312.0">4</text><text x="453.2" y="312.0">3</text><text x="466.6" y="312.0">3</text><text x="480.0" y="312.0">2</text><text x="493.4" y="312.0">2</text><text x="506.8" y="312.0">2</text><text x="520.2" y="312.0">3</text><text x="533.6" y="312.0">4</text><text x="547.0" y="312.0">4</text><text x="560.4" y="312.0">6</text><text x="573.8" y="312.0">7</text><text x="587.2" y="312.0">8</text><text x="600.6" y="312.0">9</text><text x="614.0" y="312.0">5</text><text x="627.4" y="312.0">3</text><text x="640.9" y="312.0">4</text><text x="667.7" y="312.0">7</text><text x="681.1" y="312.0">5</text><text x="694.5" y="312.0">5</text><text x="707.9" y="312.0">5</text><text x="721.3" y="312.0">4</text><text x="734.7" y="312.0">4</text><text x="748.1" y="312.0">4</text><text x="761.5" y="312.0">4</text><text x="774.9" y="312.0">4</text><text x="788.3" y="312.0">3</text><text x="801.7" y="312.0">3</text><text x="815.1" y="312.0">3</text><text x="828.5" y="312.0">4</text><text x="841.9" y="312.0">5</text><text x="855.3" y="312.0">5</text><text x="868.8" y="312.0">9</text><text x="882.2" y="312.0">8</text>
<text x="64.4" y="326.0">5</text><text x="77.8" y="326.0">7</text><text x="105.5" y="326.0">10</text><text x="118.0" y="326.0">9</text><text x="132.4" y="326.0">14</text><text x="145.8" y="326.0">16</text><text x="159.2" y="326.0">16</text><text x="186.0" y="326.0">20</text><text x="199.4" y="326.0">17</text><text x="212.8" y="326.0">16</text><text x="225.3" y="326.0">9</text><text x="252.1" y="326.0">6</text><text x="265.5" y="326.0">8</text><text x="279.8" y="326.0">11</text><text x="292.3" y="326.0">9</text><text x="306.6" y="326.0">10</text><text x="319.1" y="326.0">9</text><text x="332.5" y="326.0">7</text><text x="345.9" y="326.0">7</text><text x="359.3" y="326.0">6</text><text x="372.7" y="326.0">6</text><text x="386.1" y="326.0">5</text><text x="399.5" y="326.0">4</text><text x="413.0" y="326.0">5</text><text x="426.4" y="326.0">4</text><text x="439.8" y="326.0">3</text><text x="453.2" y="326.0">3</text><text x="466.6" y="326.0">4</text><text x="480.0" y="326.0">2</text><text x="493.4" y="326.0">3</text><text x="506.8" y="326.0">2</text><text x="520.2" y="326.0">3</text><text x="533.6" y="326.0">4</text><text x="547.0" y="326.0">5</text><text x="560.4" y="326.0">4</text><text x="573.8" y="326.0">6</text><text x="587.2" y="326.0">5</text><text x="600.6" y="326.0">5</text><text x="614.0" y="326.0">5</text><text x="627.4" y="326.0">5</text><text x="640.9" y="326.0">6</text><text x="654.3" y="326.0">7</text><text x="667.7" y="326.0">8</text><text x="681.1" y="326.0">8</text><text x="694.5" y="326.0">7</text><text x="707.9" y="326.0">8</text><text x="721.3" y="326.0">5</text><text x="734.7" y="326.0">5</text><text x="748.1" y="326.0">5</text><text x="761.5" y="326.0">4</text><text x="774.9" y="326.0">5</text><text x="788.3" y="326.0">5</text><text x="801.7" y="326.0">5</text><text x="815.1" y="326.0">7</text><text x="828.5" y="326.0">7</text><text x="841.9" y="326.0">8</text><text x="856.3" y="326.0">11</text><text x="869.7" y="326.0">13</text><text x="883.1" y="326.0">11</text>
<text x="77.8" y="340.0">8</text><text x="91.2" y="340.0">6</text><text x="104.6" y="340.0">6</text><text x="118.0" y="340.0">7</text><text x="131.4" y="340.0">8</text><text x="145.8" y="340.0">13</text><text x="159.2" y="340.0">18</text><text x="172.6" y="340.0">17</text><text x="186.0" y="340.0">14</text><text x="199.4" y="340.0">16</text><text x="212.8" y="340.0">16</text><text x="226.2" y="340.0">23</text><text x="239.6" y="340.0">14</text><text x="252.1" y="340.0">7</text><text x="266.4" y="340.0">12</text><text x="279.8" y="340.0">14</text><text x="293.2" y="340.0">11</text><text x="306.6" y="340.0">11</text><text x="320.0" y="340.0">11</text><text x="332.5" y="340.0">7</text><text x="345.9" y="340.0">8</text><text x="359.3" y="340.0">7</text><text x="372.7" y="340.0">7</text><text x="386.1" y="340.0">6</text><text x="399.5" y="340.0">8</text><text x="413.0" y="340.0">7</text><text x="426.4" y="340.0">6</text><text x="439.8" y="340.0">6</text><text x="453.2" y="340.0">5</text><text x="466.6" y="340.0">8</text><text x="480.0" y="340.0">5</text><text x="493.4" y="340.0">4</text><text x="506.8" y="340.0">5</text><text x="520.2" y="340.0">5</text><text x="533.6" y="340.0">4</text><text x="547.0" y="340.0">5</text><text x="560.4" y="340.0">5</text><text x="573.8" y="340.0">3</text><text x="587.2" y="340.0">5</text><text x="600.6" y="340.0">5</text><text x="614.0" y="340.0">6</text><text x="627.4" y="340.0">6</text><text x="640.9" y="340.0">8</text><text x="654.3" y="340.0">9</text><text x="668.6" y="340.0">10</text><text x="681.1" y="340.0">9</text><text x="694.5" y="340.0">8</text><text x="708.8" y="340.0">14</text><text x="721.3" y="340.0">9</text><text x="734.7" y="340.0">5</text><text x="748.1" y="340.0">5</text><text x="761.5" y="340.0">6</text><text x="774.9" y="340.0">6</text><text x="788.3" y="340.0">7</text><text x="801.7" y="340.0">8</text><text x="815.1" y="340.0">7</text><text x="828.5" y="340.0">7</text><text x="841.9" y="340.0">8</text><text x="856.3" y="340.0">11</text><text x="869.7" y="340.0">11</text><text x="883.1" y="340.0">11</text><text x="895.6" y="340.0">5</text>
<text x="91.2" y="355.0">2</text><text x="104.6" y="355.0">3</text><text x="118.0" y="355.0">6</text><text x="131.4" y="355.0">8</text><text x="145.8" y="355.0">13</text><text x="159.2" y="355.0">15</text><text x="172.6" y="355.0">11</text><text x="186.0" y="355.0">10</text><text x="199.4" y="355.0">14</text><text x="212.8" y="355.0">14</text><text x="226.2" y="355.0">10</text><text x="238.7" y="355.0">9</text><text x="253.0" y="355.0">11</text><text x="266.4" y="355.0">11</text><text x="279.8" y="355.0">11</text><text x="293.2" y="355.0">10</text><text x="305.7" y="355.0">9</text><text x="320.0" y="355.0">10</text><text x="332.5" y="355.0">7</text><text x="345.9" y="355.0">8</text><text x="359.3" y="355.0">8</text><text x="372.7" y="355.0">7</text><text x="386.1" y="355.0">8</text><text x="399.5" y="355.0">8</text><text x="413.0" y="355.0">7</text><text x="426.4" y="355.0">8</text><text x="439.8" y="355.0">9</text><text x="453.2" y="355.0">5</text><text x="466.6" y="355.0">8</text><text x="480.0" y="355.0">8</text><text x="493.4" y="355.0">7</text><text x="506.8" y="355.0">7</text><text x="520.2" y="355.0">5</text><text x="533.6" y="355.0">5</text><text x="547.0" y="355.0">5</text><text x="560.4" y="355.0">4</text><text x="573.8" y="355.0">5</text><text x="587.2" y="355.0">5</text><text x="600.6" y="355.0">5</text><text x="614.0" y="355.0">5</text><text x="627.4" y="355.0">8</text><text x="640.9" y="355.0">7</text><text x="654.3" y="355.0">9</text><text x="667.7" y="355.0">9</text><text x="681.1" y="355.0">8</text><text x="694.5" y="355.0">9</text><text x="708.8" y="355.0">10</text><text x="722.2" y="355.0">11</text><text x="761.5" y="355.0">2</text><text x="774.9" y="355.0">5</text><text x="788.3" y="355.0">5</text><text x="801.7" y="355.0">5</text><text x="815.1" y="355.0">6</text><text x="828.5" y="355.0">6</text><text x="841.9" y="355.0">8</text><text x="855.3" y="355.0">8</text><text x="868.8" y="355.0">8</text><text x="883.1" y="355.0">11</text><text x="896.5" y="355.0">11</text><text x="909.9" y="355.0">12</text><text x="922.4" y="355.0">9</text><text x="936.7" y="355.0">13</text><text x="950.1" y="355.0">14</text>
<text x="77.8" y="369.0">4</text><text x="91.2" y="369.0">3</text><text x="104.6" y="369.0">4</text><text x="118.0" y="369.0">8</text><text x="131.4" y="369.0">8</text><text x="144.8" y="369.0">9</text><text x="158.2" y="369.0">9</text><text x="171.6" y="369.0">9</text><text x="186.0" y="369.0">10</text><text x="199.4" y="369.0">10</text><text x="212.8" y="369.0">12</text><text x="226.2" y="369.0">11</text><text x="238.7" y="369.0">9</text><text x="252.1" y="369.0">9</text><text x="266.4" y="369.0">11</text><text x="278.9" y="369.0">7</text><text x="292.3" y="369.0">7</text><text x="305.7" y="369.0">6</text><text x="319.1" y="369.0">7</text><text x="332.5" y="369.0">5</text><text x="345.9" y="369.0">6</text><text x="359.3" y="369.0">6</text><text x="372.7" y="369.0">6</text><text x="386.1" y="369.0">7</text><text x="399.5" y="369.0">6</text><text x="413.0" y="369.0">5</text><text x="426.4" y="369.0">3</text><text x="439.8" y="369.0">6</text><text x="453.2" y="369.0">3</text><text x="466.6" y="369.0">3</text><text x="480.0" y="369.0">3</text><text x="493.4" y="369.0">4</text><text x="506.8" y="369.0">3</text><text x="520.2" y="369.0">2</text><text x="533.6" y="369.0">2</text><text x="547.0" y="369.0">2</text><text x="560.4" y="369.0">3</text><text x="573.8" y="369.0">2</text><text x="587.2" y="369.0">2</text><text x="600.6" y="369.0">3</text><text x="614.0" y="369.0">2</text><text x="627.4" y="369.0">3</text><text x="640.9" y="369.0">2</text><text x="654.3" y="369.0">5</text><text x="667.7" y="369.0">5</text><text x="681.1" y="369.0">8</text><text x="694.5" y="369.0">8</text><text x="707.9" y="369.0">9</text><text x="722.2" y="369.0">11</text><text x="788.3" y="369.0">4</text><text x="801.7" y="369.0">3</text><text x="815.1" y="369.0">3</text><text x="828.5" y="369.0">2</text><text x="841.9" y="369.0">2</text><text x="855.3" y="369.0">3</text><text x="868.8" y="369.0">3</text><text x="882.2" y="369.0">4</text><text x="895.6" y="369.0">5</text><text x="909.0" y="369.0">7</text><text x="922.4" y="369.0">8</text><text x="935.8" y="369.0">9</text><text x="950.1" y="369.0">13</text>
<text x="64.4" y="383.0">1</text><text x="77.8" y="383.0">2</text><text x="91.2" y="383.0">3</text><text x="104.6" y="383.0">5</text><text x="118.0" y="383.0">6</text><text x="131.4" y="383.0">9</text><text x="145.8" y="383.0">10</text><text x="158.2" y="383.0">8</text><text x="171.6" y="383.0">8</text><text x="185.1" y="383.0">8</text><text x="199.4" y="383.0">10</text><text x="211.9" y="383.0">8</text><text x="225.3" y="383.0">9</text><text x="238.7" y="383.0">6</text><text x="252.1" y="383.0">6</text><text x="265.5" y="383.0">3</text><text x="278.9" y="383.0">3</text><text x="292.3" y="383.0">6</text><text x="305.7" y="383.0">4</text><text x="319.1" y="383.0">7</text><text x="332.5" y="383.0">4</text><text x="345.9" y="383.0">7</text><text x="359.3" y="383.0">6</text><text x="372.7" y="383.0">6</text><text x="386.1" y="383.0">4</text><text x="399.5" y="383.0">6</text><text x="413.0" y="383.0">3</text><text x="426.4" y="383.0">4</text><text x="439.8" y="383.0">6</text><text x="453.2" y="383.0">6</text><text x="466.6" y="383.0">4</text><text x="480.0" y="383.0">2</text><text x="493.4" y="383.0">3</text><text x="506.8" y="383.0">1</text><text x="520.2" y="383.0">2</text><text x="533.6" y="383.0">2</text><text x="547.0" y="383.0">2</text><text x="560.4" y="383.0">2</text><text x="573.8" y="383.0">1</text><text x="587.2" y="383.0">1</text><text x="600.6" y="383.0">1</text><text x="614.0" y="383.0">1</text><text x="627.4" y="383.0">1</text><text x="640.9" y="383.0">2</text><text x="654.3" y="383.0">2</text><text x="667.7" y="383.0">2</text><text x="681.1" y="383.0">3</text><text x="694.5" y="383.0">5</text><text x="708.8" y="383.0">10</text><text x="801.7" y="383.0">3</text><text x="815.1" y="383.0">2</text><text x="828.5" y="383.0">3</text><text x="841.9" y="383.0">2</text><text x="855.3" y="383.0">1</text><text x="868.8" y="383.0">1</text><text x="882.2" y="383.0">2</text><text x="895.6" y="383.0">2</text><text x="909.0" y="383.0">2</text><text x="922.4" y="383.0">4</text><text x="935.8" y="383.0">5</text><text x="949.2" y="383.0">9</text><text x="963.5" y="383.0">19</text>
<text x="64.4" y="397.0">1</text><text x="77.8" y="397.0">2</text><text x="91.2" y="397.0">2</text><text x="104.6" y="397.0">2</text><text x="118.0" y="397.0">3</text><text x="131.4" y="397.0">6</text><text x="144.8" y="397.0">5</text><text x="158.2" y="397.0">6</text><text x="171.6" y="397.0">6</text><text x="185.1" y="397.0">7</text><text x="198.5" y="397.0">8</text><text x="211.9" y="397.0">7</text><text x="225.3" y="397.0">5</text><text x="238.7" y="397.0">5</text><text x="252.1" y="397.0">4</text><text x="265.5" y="397.0">2</text><text x="278.9" y="397.0">2</text><text x="292.3" y="397.0">2</text><text x="305.7" y="397.0">3</text><text x="319.1" y="397.0">3</text><text x="332.5" y="397.0">5</text><text x="345.9" y="397.0">4</text><text x="359.3" y="397.0">7</text><text x="372.7" y="397.0">8</text><text x="386.1" y="397.0">7</text><text x="399.5" y="397.0">6</text><text x="413.0" y="397.0">6</text><text x="426.4" y="397.0">5</text><text x="439.8" y="397.0">4</text><text x="453.2" y="397.0">4</text><text x="466.6" y="397.0">5</text><text x="480.0" y="397.0">4</text><text x="493.4" y="397.0">2</text><text x="506.8" y="397.0">1</text><text x="520.2" y="397.0">3</text><text x="533.6" y="397.0">2</text><text x="547.0" y="397.0">1</text><text x="560.4" y="397.0">2</text><text x="573.8" y="397.0">1</text><text x="587.2" y="397.0">1</text><text x="600.6" y="397.0">1</text><text x="614.0" y="397.0">1</text><text x="627.4" y="397.0">1</text><text x="640.9" y="397.0">2</text><text x="654.3" y="397.0">1</text><text x="667.7" y="397.0">2</text><text x="681.1" y="397.0">4</text><text x="694.5" y="397.0">5</text><text x="708.8" y="397.0">15</text><text x="722.2" y="397.0">17</text><text x="828.5" y="397.0">3</text><text x="841.9" y="397.0">3</text><text x="855.3" y="397.0">2</text><text x="868.8" y="397.0">2</text><text x="882.2" y="397.0">2</text><text x="895.6" y="397.0">2</text><text x="909.0" y="397.0">3</text><text x="922.4" y="397.0">4</text><text x="935.8" y="397.0">6</text><text x="950.1" y="397.0">10</text><text x="963.5" y="397.0">10</text>
<text x="77.8" y="412.0">1</text><text x="91.2" y="412.0">2</text><text x="104.6" y="412.0">3</text><text x="118.0" y="412.0">6</text><text x="131.4" y="412.0">3</text><text x="144.8" y="412.0">3</text><text x="158.2" y="412.0">3</text><text x="171.6" y="412.0">3</text><text x="185.1" y="412.0">4</text><text x="198.5" y="412.0">4</text><text x="211.9" y="412.0">6</text><text x="225.3" y="412.0">4</text><text x="238.7" y="412.0">5</text><text x="252.1" y="412.0">3</text><text x="265.5" y="412.0">3</text><text x="278.9" y="412.0">1</text><text x="292.3" y="412.0">1</text><text x="305.7" y="412.0">1</text><text x="319.1" y="412.0">1</text><text x="332.5" y="412.0">3</text><text x="345.9" y="412.0">2</text><text x="359.3" y="412.0">4</text><text x="372.7" y="412.0">6</text><text x="386.1" y="412.0">7</text><text x="399.5" y="412.0">6</text><text x="413.0" y="412.0">6</text><text x="426.4" y="412.0">6</text><text x="439.8" y="412.0">4</text><text x="453.2" y="412.0">5</text><text x="466.6" y="412.0">4</text><text x="480.0" y="412.0">3</text><text x="493.4" y="412.0">2</text><text x="506.8" y="412.0">2</text><text x="520.2" y="412.0">2</text><text x="533.6" y="412.0">2</text><text x="547.0" y="412.0">2</text><text x="560.4" y="412.0">2</text><text x="573.8" y="412.0">2</text><text x="587.2" y="412.0">1</text><text x="600.6" y="412.0">1</text><text x="614.0" y="412.0">1</text><text x="627.4" y="412.0">2</text><text x="640.9" y="412.0">2</text><text x="654.3" y="412.0">2</text><text x="667.7" y="412.0">2</text><text x="681.1" y="412.0">3</text><text x="694.5" y="412.0">7</text><text x="708.8" y="412.0">11</text><text x="722.2" y="412.0">18</text><text x="828.5" y="412.0">3</text><text x="841.9" y="412.0">2</text><text x="855.3" y="412.0">2</text><text x="868.8" y="412.0">2</text><text x="882.2" y="412.0">2</text><text x="895.6" y="412.0">2</text><text x="909.0" y="412.0">2</text><text x="922.4" y="412.0">4</text><text x="935.8" y="412.0">5</text><text x="949.2" y="412.0">6</text><text x="962.6" y="412.0">9</text>
<text x="64.4" y="426.0">1</text><text x="77.8" y="426.0">1</text><text x="91.2" y="426.0">1</text><text x="104.6" y="426.0">3</text><text x="118.0" y="426.0">3</text><text x="131.4" y="426.0">3</text><text x="144.8" y="426.0">3</text><text x="158.2" y="426.0">5</text><text x="171.6" y="426.0">2</text><text x="185.1" y="426.0">4</text><text x="198.5" y="426.0">3</text><text x="211.9" y="426.0">4</text><text x="225.3" y="426.0">5</text><text x="238.7" y="426.0">5</text><text x="252.1" y="426.0">2</text><text x="265.5" y="426.0">2</text><text x="278.9" y="426.0">1</text><text x="292.3" y="426.0">1</text><text x="359.3" y="426.0">2</text><text x="372.7" y="426.0">3</text><text x="386.1" y="426.0">4</text><text x="399.5" y="426.0">5</text><text x="413.0" y="426.0">4</text><text x="426.4" y="426.0">4</text><text x="439.8" y="426.0">3</text><text x="453.2" y="426.0">4</text><text x="466.6" y="426.0">4</text><text x="480.0" y="426.0">2</text><text x="493.4" y="426.0">2</text><text x="506.8" y="426.0">2</text><text x="520.2" y="426.0">2</text><text x="533.6" y="426.0">3</text><text x="547.0" y="426.0">3</text><text x="560.4" y="426.0">2</text><text x="573.8" y="426.0">1</text><text x="587.2" y="426.0">3</text><text x="600.6" y="426.0">2</text><text x="614.0" y="426.0">2</text><text x="627.4" y="426.0">2</text><text x="640.9" y="426.0">1</text><text x="654.3" y="426.0">2</text><text x="667.7" y="426.0">2</text><text x="681.1" y="426.0">2</text><text x="694.5" y="426.0">7</text><text x="707.9" y="426.0">7</text><text x="722.2" y="426.0">10</text><text x="735.6" y="426.0">14</text><text x="828.5" y="426.0">3</text><text x="841.9" y="426.0">2</text><text x="855.3" y="426.0">3</text><text x="868.8" y="426.0">3</text><text x="882.2" y="426.0">3</text><text x="895.6" y="426.0">3</text><text x="909.0" y="426.0">3</text><text x="922.4" y="426.0">3</text><text x="935.8" y="426.0">4</text><text x="949.2" y="426.0">4</text><text x="962.6" y="426.0">8</text>
<text x="51.0" y="440.0">2</text><text x="64.4" y="440.0">1</text><text x="77.8" y="440.0">1</text><text x="91.2" y="440.0">3</text><text x="104.6" y="440.0">2</text><text x="118.0" y="440.0">2</text><text x="131.4" y="440.0">2</text><text x="144.8" y="440.0">2</text><text x="158.2" y="440.0">2</text><text x="171.6" y="440.0">2</text><text x="185.1" y="440.0">3</text><text x="198.5" y="440.0">2</text><text x="211.9" y="440.0">2</text><text x="225.3" y="440.0">4</text><text x="238.7" y="440.0">4</text><text x="252.1" y="440.0">3</text><text x="265.5" y="440.0">3</text><text x="278.9" y="440.0">1</text><text x="359.3" y="440.0">2</text><text x="372.7" y="440.0">3</text><text x="386.1" y="440.0">3</text><text x="399.5" y="440.0">3</text><text x="413.0" y="440.0">4</text><text x="426.4" y="440.0">5</text><text x="439.8" y="440.0">4</text><text x="453.2" y="440.0">3</text><text x="466.6" y="440.0">4</text><text x="480.0" y="440.0">5</text><text x="493.4" y="440.0">5</text><text x="506.8" y="440.0">5</text><text x="520.2" y="440.0">4</text><text x="533.6" y="440.0">4</text><text x="547.0" y="440.0">3</text><text x="560.4" y="440.0">3</text><text x="573.8" y="440.0">3</text><text x="587.2" y="440.0">2</text><text x="600.6" y="440.0">2</text><text x="614.0" y="440.0">2</text><text x="627.4" y="440.0">1</text><text x="640.9" y="440.0">4</text><text x="654.3" y="440.0">3</text><text x="667.7" y="440.0">3</text><text x="681.1" y="440.0">2</text><text x="694.5" y="440.0">5</text><text x="707.9" y="440.0">4</text><text x="721.3" y="440.0">4</text><text x="734.7" y="440.0">7</text><text x="801.7" y="440.0">6</text><text x="815.1" y="440.0">5</text><text x="828.5" y="440.0">3</text><text x="841.9" y="440.0">3</text><text x="855.3" y="440.0">3</text><text x="868.8" y="440.0">3</text><text x="882.2" y="440.0">3</text><text x="895.6" y="440.0">3</text><text x="909.0" y="440.0">3</text><text x="922.4" y="440.0">3</text><text x="935.8" y="440.0">3</text><text x="949.2" y="440.0">2</text><text x="962.6" y="440.0">4</text>
<text x="51.0" y="455.0">2</text><text x="64.4" y="455.0">2</text><text x="77.8" y="455.0">2</text><text x="91.2" y="455.0">2</text><text x="104.6" y="455.0">3</text><text x="118.0" y="455.0">3</text><text x="131.4" y="455.0">2</text><text x="144.8" y="455.0">3</text><text x="158.2" y="455.0">3</text><text x="171.6" y="455.0">3</text><text x="185.1" y="455.0">3</text><text x="198.5" y="455.0">3</text><text x="211.9" y="455.0">3</text><text x="225.3" y="455.0">3</text><text x="238.7" y="455.0">4</text><text x="252.1" y="455.0">4</text><text x="265.5" y="455.0">3</text><text x="372.7" y="455.0">3</text><text x="386.1" y="455.0">3</text><text x="399.5" y="455.0">4</text><text x="413.0" y="455.0">3</text><text x="426.4" y="455.0">4</text><text x="439.8" y="455.0">6</text><text x="453.2" y="455.0">5</text><text x="466.6" y="455.0">6</text><text x="480.0" y="455.0">5</text><text x="493.4" y="455.0">5</text><text x="506.8" y="455.0">6</text><text x="520.2" y="455.0">3</text><text x="533.6" y="455.0">5</text><text x="547.0" y="455.0">7</text><text x="560.4" y="455.0">6</text><text x="573.8" y="455.0">3</text><text x="587.2" y="455.0">6</text><text x="600.6" y="455.0">4</text><text x="614.0" y="455.0">4</text><text x="627.4" y="455.0">3</text><text x="640.9" y="455.0">5</text><text x="654.3" y="455.0">6</text><text x="667.7" y="455.0">2</text><text x="681.1" y="455.0">3</text><text x="694.5" y="455.0">3</text><text x="707.9" y="455.0">2</text><text x="721.3" y="455.0">3</text><text x="734.7" y="455.0">8</text><text x="801.7" y="455.0">8</text><text x="815.1" y="455.0">6</text><text x="828.5" y="455.0">4</text><text x="841.9" y="455.0">3</text><text x="855.3" y="455.0">4</text><text x="868.8" y="455.0">4</text><text x="882.2" y="455.0">3</text><text x="895.6" y="455.0">3</text><text x="909.0" y="455.0">4</text><text x="922.4" y="455.0">5</text><text x="935.8" y="455.0">4</text><text x="949.2" y="455.0">3</text><text x="962.6" y="455.0">2</text><text x="976.0" y="455.0">4</text>
<text x="51.0" y="469.0">3</text><text x="64.4" y="469.0">3</text><text x="77.8" y="469.0">3</text><text x="91.2" y="469.0">3</text><text x="104.6" y="469.0">4</text><text x="118.0" y="469.0">3</text><text x="131.4" y="469.0">3</text><text x="144.8" y="469.0">3</text><text x="158.2" y="469.0">3</text><text x="171.6" y="469.0">4</text><text x="185.1" y="469.0">4</text><text x="198.5" y="469.0">3</text><text x="211.9" y="469.0">3</text><text x="225.3" y="469.0">5</text><text x="238.7" y="469.0">5</text><text x="252.1" y="469.0">3</text><text x="265.5" y="469.0">4</text><text x="278.9" y="469.0">4</text><text x="292.3" y="469.0">5</text><text x="305.7" y="469.0">6</text><text x="319.1" y="469.0">2</text><text x="332.5" y="469.0">4</text><text x="372.7" y="469.0">3</text><text x="386.1" y="469.0">4</text><text x="399.5" y="469.0">3</text><text x="413.0" y="469.0">4</text><text x="426.4" y="469.0">5</text><text x="439.8" y="469.0">4</text><text x="453.2" y="469.0">5</text><text x="466.6" y="469.0">5</text><text x="480.0" y="469.0">5</text><text x="493.4" y="469.0">6</text><text x="506.8" y="469.0">5</text><text x="520.2" y="469.0">6</text><text x="533.6" y="469.0">5</text><text x="547.0" y="469.0">8</text><text x="560.4" y="469.0">4</text><text x="573.8" y="469.0">6</text><text x="587.2" y="469.0">4</text><text x="600.6" y="469.0">4</text><text x="614.0" y="469.0">8</text><text x="640.9" y="469.0">7</text><text x="655.2" y="469.0">11</text><text x="681.1" y="469.0">6</text><text x="694.5" y="469.0">6</text><text x="707.9" y="469.0">4</text><text x="721.3" y="469.0">6</text><text x="734.7" y="469.0">6</text><text x="774.9" y="469.0">6</text><text x="788.3" y="469.0">7</text><text x="801.7" y="469.0">7</text><text x="815.1" y="469.0">6</text><text x="828.5" y="469.0">6</text><text x="841.9" y="469.0">6</text><text x="855.3" y="469.0">6</text><text x="868.8" y="469.0">5</text><text x="882.2" y="469.0">6</text><text x="895.6" y="469.0">7</text><text x="909.0" y="469.0">4</text><text x="922.4" y="469.0">6</text><text x="935.8" y="469.0">5</text><text x="949.2" y="469.0">3</text><text x="962.6" y="469.0">3</text><text x="976.0" y="469.0">3</text><text x="989.4" y="469.0">3</text><text x="1002.8" y="469.0">3</text>
<text x="51.0" y="483.0">5</text><text x="64.4" y="483.0">4</text><text x="77.8" y="483.0">4</text><text x="91.2" y="483.0">8</text><text x="104.6" y="483.0">4</text><text x="118.0" y="483.0">5</text><text x="131.4" y="483.0">5</text><text x="144.8" y="483.0">3</text><text x="158.2" y="483.0">4</text><text x="171.6" y="483.0">5</text><text x="185.1" y="483.0">5</text><text x="198.5" y="483.0">7</text><text x="211.9" y="483.0">5</text><text x="225.3" y="483.0">6</text><text x="238.7" y="483.0">4</text><text x="252.1" y="483.0">6</text><text x="265.5" y="483.0">4</text><text x="278.9" y="483.0">5</text><text x="292.3" y="483.0">5</text><text x="305.7" y="483.0">5</text><text x="319.1" y="483.0">5</text><text x="332.5" y="483.0">6</text><text x="345.9" y="483.0">5</text><text x="359.3" y="483.0">5</text><text x="372.7" y="483.0">4</text><text x="386.1" y="483.0">4</text><text x="399.5" y="483.0">5</text><text x="413.0" y="483.0">5</text><text x="426.4" y="483.0">5</text><text x="439.8" y="483.0">4</text><text x="453.2" y="483.0">5</text><text x="466.6" y="483.0">6</text><text x="480.0" y="483.0">6</text><text x="493.4" y="483.0">4</text><text x="506.8" y="483.0">6</text><text x="520.2" y="483.0">5</text><text x="533.6" y="483.0">6</text><text x="547.0" y="483.0">3</text><text x="560.4" y="483.0">6</text><text x="573.8" y="483.0">7</text><text x="588.2" y="483.0">12</text><text x="640.9" y="483.0">9</text><text x="655.2" y="483.0">12</text><text x="694.5" y="483.0">5</text><text x="707.9" y="483.0">4</text><text x="721.3" y="483.0">5</text><text x="734.7" y="483.0">9</text><text x="761.5" y="483.0">7</text><text x="774.9" y="483.0">8</text><text x="788.3" y="483.0">7</text><text x="801.7" y="483.0">6</text><text x="815.1" y="483.0">7</text><text x="828.5" y="483.0">9</text><text x="841.9" y="483.0">7</text><text x="855.3" y="483.0">8</text><text x="868.8" y="483.0">6</text><text x="882.2" y="483.0">6</text><text x="895.6" y="483.0">6</text><text x="909.0" y="483.0">5</text><text x="922.4" y="483.0">5</text><text x="935.8" y="483.0">6</text><text x="949.2" y="483.0">6</text><text x="962.6" y="483.0">8</text><text x="976.0" y="483.0">5</text><text x="989.4" y="483.0">3</text><text x="1002.8" y="483.0">5</text>
<text x="77.8" y="497.0">6</text><text x="91.2" y="497.0">9</text><text x="104.6" y="497.0">5</text><text x="118.9" y="497.0">12</text><text x="132.4" y="497.0">10</text><text x="144.8" y="497.0">1</text><text x="158.2" y="497.0">5</text><text x="305.7" y="497.0">8</text><text x="319.1" y="497.0">5</text><text x="332.5" y="497.0">6</text><text x="345.9" y="497.0">6</text><text x="359.3" y="497.0">6</text><text x="372.7" y="497.0">6</text><text x="386.1" y="497.0">6</text><text x="399.5" y="497.0">7</text><text x="413.0" y="497.0">6</text><text x="426.4" y="497.0">5</text><text x="439.8" y="497.0">4</text><text x="453.2" y="497.0">3</text><text x="466.6" y="497.0">4</text><text x="480.0" y="497.0">6</text><text x="493.4" y="497.0">9</text><text x="506.8" y="497.0">7</text><text x="520.2" y="497.0">5</text><text x="533.6" y="497.0">6</text><text x="547.0" y="497.0">4</text><text x="561.3" y="497.0">10</text><text x="574.7" y="497.0">11</text><text x="587.2" y="497.0">3</text><text x="601.6" y="497.0">12</text><text x="615.0" y="497.0">10</text><text x="627.4" y="497.0">3</text><text x="640.9" y="497.0">3</text><text x="654.3" y="497.0">5</text><text x="681.1" y="497.0">6</text><text x="694.5" y="497.0">6</text><text x="707.9" y="497.0">6</text><text x="721.3" y="497.0">5</text><text x="735.6" y="497.0">11</text><text x="762.4" y="497.0">11</text><text x="775.8" y="497.0">10</text><text x="788.3" y="497.0">8</text><text x="801.7" y="497.0">9</text><text x="816.1" y="497.0">12</text><text x="828.5" y="497.0">5</text><text x="842.9" y="497.0">11</text><text x="855.3" y="497.0">8</text><text x="883.1" y="497.0">10</text><text x="909.0" y="497.0">3</text>
<text x="144.8" y="511.0">3</text><text x="158.2" y="511.0">7</text><text x="399.5" y="511.0">7</text><text x="413.0" y="511.0">4</text><text x="426.4" y="511.0">6</text><text x="439.8" y="511.0">4</text><text x="506.8" y="511.0">4</text><text x="520.2" y="511.0">8</text><text x="721.3" y="511.0">4</text><text x="749.0" y="511.0">10</text><text x="761.5" y="511.0">9</text><text x="774.9" y="511.0">7</text><text x="788.3" y="511.0">6</text><text x="801.7" y="511.0">6</text><text x="815.1" y="511.0">7</text><text x="828.5" y="511.0">6</text><text x="842.9" y="511.0">14</text>
<text x="929.5" y="126.0">3</text>
<text x="125.1" y="141.0">4</text><text x="232.4" y="141.0">3</text><text x="339.6" y="141.0">6</text><text x="446.8" y="141.0">3</text><text x="554.1" y="141.0">4</text><text x="661.3" y="141.0">4</text><text x="768.6" y="141.0">8</text><text x="875.8" y="141.0">1</text><text x="983.1" y="141.0">8</text>
<text x="55.8" y="155.0">14</text><text x="98.3" y="155.0">6</text><text x="151.9" y="155.0">9</text><text x="206.5" y="155.0">12</text><text x="259.2" y="155.0">3</text><text x="366.4" y="155.0">5</text><text x="420.0" y="155.0">3</text><text x="473.7" y="155.0">5</text><text x="527.3" y="155.0">2</text><text x="580.9" y="155.0">0</text><text x="634.5" y="155.0">7</text><text x="688.2" y="155.0">5</text><text x="741.8" y="155.0">3</text><text x="902.6" y="155.0">5</text><text x="957.2" y="155.0">10</text><text x="1004.9" y="155.0">14</text>
<text x="54.5" y="169.0">9</text><text x="99.3" y="169.0">11</text><text x="151.9" y="169.0">9</text><text x="205.5" y="169.0">6</text><text x="312.8" y="169.0">9</text><text x="366.4" y="169.0">5</text><text x="420.0" y="169.0">7</text><text x="473.7" y="169.0">7</text><text x="527.3" y="169.0">8</text><text x="634.5" y="169.0">1</text><text x="688.2" y="169.0">5</text><text x="741.8" y="169.0">5</text><text x="795.4" y="169.0">7</text><text x="849.0" y="169.0">6</text><text x="902.6" y="169.0">9</text><text x="956.3" y="169.0">9</text><text x="1003.8" y="169.0">9</text>
<text x="58.1" y="184.0">9</text><text x="84.9" y="184.0">9</text><text x="111.7" y="184.0">8</text><text x="139.5" y="184.0">11</text><text x="406.6" y="184.0">5</text><text x="433.4" y="184.0">7</text><text x="460.3" y="184.0">6</text><text x="487.1" y="184.0">9</text><text x="540.7" y="184.0">3</text><text x="594.3" y="184.0">9</text><text x="621.1" y="184.0">8</text><text x="647.9" y="184.0">5</text><text x="674.7" y="184.0">4</text><text x="701.6" y="184.0">5</text><text x="728.4" y="184.0">3</text><text x="755.2" y="184.0">5</text><text x="783.0" y="184.0">12</text><text x="836.6" y="184.0">18</text><text x="863.4" y="184.0">19</text><text x="890.2" y="184.0">11</text><text x="917.0" y="184.0">10</text><text x="942.9" y="184.0">5</text><text x="969.7" y="184.0">8</text>
<text x="59.1" y="198.0">10</text><text x="84.9" y="198.0">3</text><text x="379.8" y="198.0">7</text><text x="406.6" y="198.0">8</text><text x="433.4" y="198.0">8</text><text x="461.2" y="198.0">10</text><text x="488.0" y="198.0">10</text><text x="513.9" y="198.0">8</text><text x="540.7" y="198.0">7</text><text x="674.7" y="198.0">6</text><text x="701.6" y="198.0">8</text><text x="728.4" y="198.0">6</text><text x="755.2" y="198.0">5</text><text x="783.0" y="198.0">12</text><text x="809.8" y="198.0">11</text><text x="835.6" y="198.0">7</text><text x="863.4" y="198.0">12</text><text x="890.2" y="198.0">11</text><text x="917.0" y="198.0">10</text><text x="942.9" y="198.0">7</text>
<text x="326.2" y="212.0">8</text><text x="353.0" y="212.0">9</text><text x="380.8" y="212.0">11</text><text x="406.6" y="212.0">9</text><text x="434.4" y="212.0">15</text><text x="461.2" y="212.0">15</text><text x="488.0" y="212.0">14</text><text x="513.9" y="212.0">7</text><text x="540.7" y="212.0">7</text><text x="567.5" y="212.0">9</text><text x="674.7" y="212.0">3</text><text x="701.6" y="212.0">8</text><text x="728.4" y="212.0">8</text><text x="755.2" y="212.0">7</text><text x="782.0" y="212.0">7</text><text x="809.8" y="212.0">11</text><text x="836.6" y="212.0">12</text><text x="862.4" y="212.0">8</text><text x="889.2" y="212.0">6</text><text x="916.1" y="212.0">8</text><text x="942.9" y="212.0">7</text><text x="969.7" y="212.0">7</text><text x="996.5" y="212.0">6</text>
<text x="327.2" y="226.0">17</text><text x="354.0" y="226.0">10</text><text x="380.8" y="226.0">10</text><text x="407.6" y="226.0">14</text><text x="434.4" y="226.0">17</text><text x="461.2" y="226.0">15</text><text x="488.0" y="226.0">12</text><text x="514.9" y="226.0">11</text><text x="541.7" y="226.0">11</text><text x="567.5" y="226.0">8</text><text x="594.3" y="226.0">5</text><text x="782.0" y="226.0">8</text><text x="809.8" y="226.0">10</text><text x="835.6" y="226.0">8</text><text x="862.4" y="226.0">9</text><text x="889.2" y="226.0">7</text><text x="916.1" y="226.0">6</text><text x="942.9" y="226.0">9</text><text x="970.7" y="226.0">10</text>
<text x="84.9" y="526.0">5</text><text x="138.5" y="526.0">7</text><text x="165.3" y="526.0">4</text><text x="406.6" y="526.0">3</text><text x="433.4" y="526.0">9</text><text x="647.9" y="526.0">6</text><text x="701.6" y="526.0">7</text><text x="728.4" y="526.0">6</text><text x="756.2" y="526.0">12</text><text x="782.0" y="526.0">6</text><text x="809.8" y="526.0">10</text><text x="835.6" y="526.0">8</text>
<text x="728.4" y="540.0">9</text><text x="756.2" y="540.0">10</text><text x="783.0" y="540.0">11</text><text x="836.6" y="540.0">12</text>
<text x="85.9" y="568.0">11</text>
</g>
<g class="z" transform="scale(0.92,1)">
<text x="1060.1" y="126.0">3</text><text x="1060.1" y="141.0">4</text><text x="1060.1" y="155.0">6</text><text x="1060.1" y="169.0">8</text><text x="1060.1" y="184.0">9</text><text x="1060.1" y="198.0">9</text><text x="1060.1" y="212.0">9</text><text x="1060.1" y="226.0">11</text><text x="1060.1" y="241.0">12</text><text x="1060.1" y="255.0">9</text><text x="1060.1" y="269.0">7</text><text x="1060.1" y="283.0">5</text><text x="1060.1" y="298.0">4</text><text x="1060.1" y="312.0">5</text><text x="1060.1" y="326.0">7</text><text x="1060.1" y="340.0">8</text><text x="1060.1" y="355.0">8</text><text x="1060.1" y="369.0">5</text><text x="1060.1" y="383.0">4</text><text x="1060.1" y="397.0">4</text><text x="1060.1" y="412.0">4</text><text x="1060.1" y="426.0">3</text><text x="1060.1" y="440.0">3</text><text x="1060.1" y="455.0">4</text><text x="1060.1" y="469.0">5</text><text x="1060.1" y="483.0">6</text><text x="1060.1" y="497.0">7</text><text x="1060.1" y="511.0">7</text><text x="1060.1" y="526.0">7</text><text x="1060.1" y="540.0">10</text><text x="1060.1" y="568.0">11</text>
</g>
<g class="ax">
<text x="5.8" y="119.4" textLength="22.5" lengthAdjust="spacingAndGlyphs">90°N</text>
<text x="5.8" y="205.4" textLength="22.5" lengthAdjust="spacingAndGlyphs">60°N</text>
<text x="5.8" y="290.4" textLength="22.5" lengthAdjust="spacingAndGlyphs">30°N</text>
<text x="18.6" y="376.4" textLength="10.3" lengthAdjust="spacingAndGlyphs">0°</text>
<text x="5.8" y="462.4" textLength="22.5" lengthAdjust="spacingAndGlyphs">30°S</text>
<text x="5.8" y="547.4" textLength="22.5" lengthAdjust="spacingAndGlyphs">60°S</text>
<text x="5.8" y="633.4" textLength="22.5" lengthAdjust="spacingAndGlyphs">90°S</text>
<text x="34.3" y="654.3" textLength="21.5" lengthAdjust="spacingAndGlyphs">30°E</text>
<text x="107.9" y="654.3" textLength="21.8" lengthAdjust="spacingAndGlyphs">60°E</text>
<text x="181.8" y="654.3" textLength="21.5" lengthAdjust="spacingAndGlyphs">90°E</text>
<text x="251.7" y="654.3" textLength="27.3" lengthAdjust="spacingAndGlyphs">120°E</text>
<text x="325.0" y="654.3" textLength="27.0" lengthAdjust="spacingAndGlyphs">150°E</text>
<text x="401.9" y="654.3" textLength="22.3" lengthAdjust="spacingAndGlyphs">180°</text>
<text x="469.5" y="654.3" textLength="32.1" lengthAdjust="spacingAndGlyphs">150°W</text>
<text x="542.8" y="654.3" textLength="32.4" lengthAdjust="spacingAndGlyphs">120°W</text>
<text x="619.5" y="654.3" textLength="26.2" lengthAdjust="spacingAndGlyphs">90°W</text>
<text x="692.7" y="654.3" textLength="26.3" lengthAdjust="spacingAndGlyphs">60°W</text>
<text x="765.6" y="654.3" textLength="25.9" lengthAdjust="spacingAndGlyphs">30°W</text>
<text x="848.0" y="654.3" textLength="10.3" lengthAdjust="spacingAndGlyphs">0°</text>
<text x="914.8" y="654.3" textLength="21.4" lengthAdjust="spacingAndGlyphs">30°E</text>
</g>
<text x="394.7" y="686" font-size="10.67" textLength="180.6" lengthAdjust="spacingAndGlyphs" style="white-space:pre">GLOBAL AVERAGE (OCEAN)   6.1 %</text>
<text x="243.8" y="720" font-size="13.33" textLength="486" lengthAdjust="spacingAndGlyphs">(File name = 13_OMSA.43.mh, MGRP = 13032, TYPE = 22, PCODE = 1, SN = 43)</text>
</svg>
</body></html>
